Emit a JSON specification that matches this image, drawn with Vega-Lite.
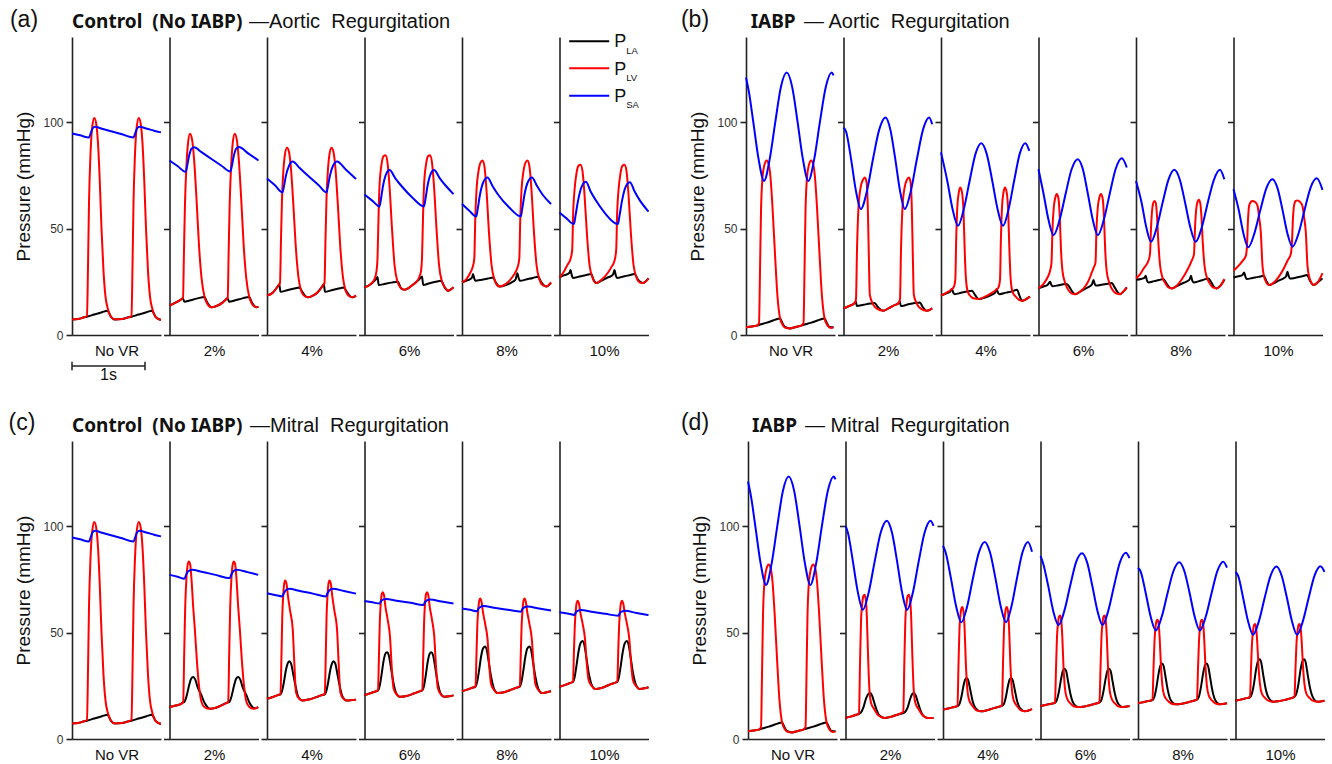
{
"$schema":"https://vega.github.io/schema/vega-lite/v6.json",
"padding":{"left":8,"top":8,"right":0,"bottom":0},
"config":{"view":{"stroke":null},"font":"Liberation Sans","range":{"category":["#000000","#ff0000","#0000ff"]},
"axis":{"grid":false,"domainColor":"#222","domainWidth":1.6,"tickColor":"#222","tickWidth":1.6,"labelFont":"Liberation Sans","labelFontSize":12,"labelColor":"#333","titleFont":"Liberation Sans","titleFontWeight":"normal","titleColor":"#111"},
"axisX":{"ticks":false,"labels":false,"titleFontSize":15,"titlePadding":8},
"axisY":{"tickSize":6,"labelPadding":3,"titleFontSize":19,"titlePadding":9},
"text":{"font":"Liberation Sans","color":"#111"}},
"datasets":{
"a0":[{"s":"LA","t":0,"p":7.3},{"s":"LA","t":6,"p":7.5},{"s":"LA","t":12,"p":8.3},{"s":"LA","t":15,"p":8.6},{"s":"LA","t":22,"p":9.6},{"s":"LA","t":30,"p":10.7},{"s":"LA","t":35.5,"p":11.4},{"s":"LA","t":37,"p":10.5},{"s":"LA","t":39,"p":8.5},{"s":"LA","t":43,"p":7.3},{"s":"LA","t":50,"p":7.5},{"s":"LA","t":56.5,"p":8.3},{"s":"LA","t":59.5,"p":8.6},{"s":"LA","t":66.5,"p":9.6},{"s":"LA","t":74.5,"p":10.7},{"s":"LA","t":80,"p":11.4},{"s":"LA","t":81.5,"p":10.5},{"s":"LA","t":83.5,"p":8.5},{"s":"LA","t":87.5,"p":7.3},{"s":"LA","t":89,"p":7.2},
{"s":"LV","t":0,"p":7.3},{"s":"LV","t":6,"p":7.5},{"s":"LV","t":12,"p":8.3},{"s":"LV","t":15,"p":9},{"s":"LV","t":16,"p":32},{"s":"LV","t":17,"p":62},{"s":"LV","t":18.5,"p":85},{"s":"LV","t":20.3,"p":98},{"s":"LV","t":22.3,"p":102},{"s":"LV","t":24.3,"p":99},{"s":"LV","t":26,"p":90},{"s":"LV","t":27.8,"p":72},{"s":"LV","t":29.5,"p":50},{"s":"LV","t":31.5,"p":30},{"s":"LV","t":33.5,"p":18},{"s":"LV","t":36,"p":12},{"s":"LV","t":39,"p":8.5},{"s":"LV","t":43,"p":7.3},{"s":"LV","t":50,"p":7.5},{"s":"LV","t":56.5,"p":8.3},{"s":"LV","t":59.5,"p":9},{"s":"LV","t":60.5,"p":32},{"s":"LV","t":61.5,"p":62},{"s":"LV","t":63,"p":85},{"s":"LV","t":64.8,"p":98},{"s":"LV","t":66.8,"p":102},{"s":"LV","t":68.8,"p":99},{"s":"LV","t":70.5,"p":90},{"s":"LV","t":72.3,"p":72},{"s":"LV","t":74,"p":50},{"s":"LV","t":76,"p":30},{"s":"LV","t":78,"p":18},{"s":"LV","t":80.5,"p":12},{"s":"LV","t":83.5,"p":8.5},{"s":"LV","t":87.5,"p":7.3},{"s":"LV","t":89,"p":7.2},
{"s":"SA","t":0,"p":94.7},{"s":"SA","t":8,"p":93.8},{"s":"SA","t":17,"p":92.8},{"s":"SA","t":18.5,"p":94.5},{"s":"SA","t":20.5,"p":97},{"s":"SA","t":23,"p":97.8},{"s":"SA","t":30,"p":96.9},{"s":"SA","t":40,"p":95.6},{"s":"SA","t":50,"p":94.3},{"s":"SA","t":61.5,"p":92.8},{"s":"SA","t":63,"p":94.5},{"s":"SA","t":65,"p":97},{"s":"SA","t":67.5,"p":97.8},{"s":"SA","t":75,"p":96.9},{"s":"SA","t":82,"p":96},{"s":"SA","t":89,"p":95.2}],
"a1":[{"s":"LA","t":0,"p":13.8},{"s":"LA","t":6,"p":15.2},{"s":"LA","t":11,"p":16.5},{"s":"LA","t":13.3,"p":17.3},{"s":"LA","t":15,"p":15.6},{"s":"LA","t":20,"p":16.2},{"s":"LA","t":28,"p":17.2},{"s":"LA","t":35,"p":17.9},{"s":"LA","t":37,"p":16},{"s":"LA","t":39.5,"p":14},{"s":"LA","t":42,"p":13},{"s":"LA","t":47,"p":13.6},{"s":"LA","t":53,"p":15.2},{"s":"LA","t":56,"p":16.5},{"s":"LA","t":58,"p":17.3},{"s":"LA","t":59.7,"p":15.6},{"s":"LA","t":65,"p":16.2},{"s":"LA","t":73,"p":17.2},{"s":"LA","t":79.7,"p":17.9},{"s":"LA","t":81.7,"p":16},{"s":"LA","t":84.2,"p":14},{"s":"LA","t":86.7,"p":13},{"s":"LA","t":89,"p":13.2},
{"s":"LV","t":0,"p":13.8},{"s":"LV","t":6,"p":15.2},{"s":"LV","t":11,"p":16.5},{"s":"LV","t":13.5,"p":17.5},{"s":"LV","t":14.5,"p":40},{"s":"LV","t":15.5,"p":62},{"s":"LV","t":17,"p":80},{"s":"LV","t":18.5,"p":90},{"s":"LV","t":20.5,"p":94.5},{"s":"LV","t":22.5,"p":92},{"s":"LV","t":24.5,"p":83},{"s":"LV","t":27,"p":64},{"s":"LV","t":29.5,"p":42},{"s":"LV","t":32,"p":27},{"s":"LV","t":35,"p":18},{"s":"LV","t":38,"p":14.5},{"s":"LV","t":42,"p":13},{"s":"LV","t":47,"p":13.6},{"s":"LV","t":53,"p":15.2},{"s":"LV","t":56,"p":16.5},{"s":"LV","t":58.2,"p":17.5},{"s":"LV","t":59.2,"p":40},{"s":"LV","t":60.2,"p":62},{"s":"LV","t":61.7,"p":80},{"s":"LV","t":63.2,"p":90},{"s":"LV","t":65.2,"p":94.5},{"s":"LV","t":67.2,"p":92},{"s":"LV","t":69.2,"p":83},{"s":"LV","t":71.7,"p":64},{"s":"LV","t":74.2,"p":42},{"s":"LV","t":76.7,"p":27},{"s":"LV","t":79.7,"p":18},{"s":"LV","t":82.7,"p":14.5},{"s":"LV","t":86.7,"p":13},{"s":"LV","t":89,"p":13.2},
{"s":"SA","t":0,"p":82},{"s":"SA","t":8,"p":79.4},{"s":"SA","t":16,"p":76.7},{"s":"SA","t":17.5,"p":79},{"s":"SA","t":19.5,"p":84},{"s":"SA","t":22,"p":87.5},{"s":"SA","t":24.7,"p":88.2},{"s":"SA","t":32,"p":85.9},{"s":"SA","t":42,"p":82.7},{"s":"SA","t":52,"p":79.5},{"s":"SA","t":60.7,"p":76.8},{"s":"SA","t":62.2,"p":79},{"s":"SA","t":64.2,"p":84},{"s":"SA","t":66.7,"p":87.5},{"s":"SA","t":69.3,"p":88.3},{"s":"SA","t":79,"p":85.2},{"s":"SA","t":89,"p":82}],
"a2":[{"s":"LA","t":0,"p":18.5},{"s":"LA","t":6,"p":20},{"s":"LA","t":10.7,"p":22.8},{"s":"LA","t":12.3,"p":23.8},{"s":"LA","t":13.5,"p":20.3},{"s":"LA","t":20,"p":21},{"s":"LA","t":27,"p":21.8},{"s":"LA","t":32.3,"p":22.3},{"s":"LA","t":35,"p":20.5},{"s":"LA","t":38,"p":18.5},{"s":"LA","t":40.7,"p":17.7},{"s":"LA","t":45,"p":18.3},{"s":"LA","t":50.5,"p":20},{"s":"LA","t":55.2,"p":22.8},{"s":"LA","t":56.8,"p":23.8},{"s":"LA","t":58,"p":20.3},{"s":"LA","t":64.5,"p":21},{"s":"LA","t":71.5,"p":21.8},{"s":"LA","t":76.8,"p":22.3},{"s":"LA","t":79.5,"p":20.5},{"s":"LA","t":82.5,"p":18.5},{"s":"LA","t":85.2,"p":17.7},{"s":"LA","t":89,"p":18.5},
{"s":"LV","t":0,"p":18.5},{"s":"LV","t":6,"p":20},{"s":"LV","t":10.7,"p":22.8},{"s":"LV","t":13,"p":24.5},{"s":"LV","t":14,"p":45},{"s":"LV","t":15,"p":64},{"s":"LV","t":16.5,"p":78},{"s":"LV","t":18,"p":85},{"s":"LV","t":20,"p":88},{"s":"LV","t":22,"p":86},{"s":"LV","t":24,"p":78},{"s":"LV","t":26.5,"p":60},{"s":"LV","t":29,"p":40},{"s":"LV","t":31.5,"p":27},{"s":"LV","t":34,"p":21},{"s":"LV","t":37,"p":18.5},{"s":"LV","t":40.7,"p":17.7},{"s":"LV","t":45,"p":18.3},{"s":"LV","t":50.5,"p":20},{"s":"LV","t":55.2,"p":22.8},{"s":"LV","t":57.5,"p":24.5},{"s":"LV","t":58.5,"p":45},{"s":"LV","t":59.5,"p":64},{"s":"LV","t":61,"p":78},{"s":"LV","t":62.5,"p":85},{"s":"LV","t":64.5,"p":88},{"s":"LV","t":66.5,"p":86},{"s":"LV","t":68.5,"p":78},{"s":"LV","t":71,"p":60},{"s":"LV","t":73.5,"p":40},{"s":"LV","t":76,"p":27},{"s":"LV","t":78.5,"p":21},{"s":"LV","t":81.5,"p":18.5},{"s":"LV","t":85.2,"p":17.7},{"s":"LV","t":89,"p":18.5},
{"s":"SA","t":0,"p":73.5},{"s":"SA","t":8,"p":70.3},{"s":"SA","t":15.5,"p":67},{"s":"SA","t":17,"p":70},{"s":"SA","t":19,"p":75},{"s":"SA","t":22,"p":79.5},{"s":"SA","t":25.5,"p":81.5},{"s":"SA","t":33,"p":78.3},{"s":"SA","t":43,"p":74},{"s":"SA","t":52,"p":70.2},{"s":"SA","t":59.5,"p":67},{"s":"SA","t":61,"p":70},{"s":"SA","t":63,"p":75},{"s":"SA","t":66,"p":79.5},{"s":"SA","t":70,"p":81.5},{"s":"SA","t":79,"p":77.6},{"s":"SA","t":89,"p":73.3}],
"a3":[{"s":"LA","t":0,"p":22.4},{"s":"LA","t":5,"p":23.5},{"s":"LA","t":10,"p":25.5},{"s":"LA","t":12,"p":26.5},{"s":"LA","t":13,"p":27.3},{"s":"LA","t":14.2,"p":23.5},{"s":"LA","t":20,"p":24},{"s":"LA","t":27,"p":24.6},{"s":"LA","t":33.4,"p":25},{"s":"LA","t":36.5,"p":22},{"s":"LA","t":40,"p":21.3},{"s":"LA","t":44,"p":22},{"s":"LA","t":48,"p":23.5},{"s":"LA","t":52,"p":25},{"s":"LA","t":55.5,"p":26.5},{"s":"LA","t":57.5,"p":27.5},{"s":"LA","t":58.7,"p":23.5},{"s":"LA","t":65,"p":24.3},{"s":"LA","t":71,"p":25},{"s":"LA","t":76.7,"p":25.5},{"s":"LA","t":80,"p":22.5},{"s":"LA","t":83.4,"p":20.8},{"s":"LA","t":86,"p":21.3},{"s":"LA","t":89,"p":22.4},
{"s":"LV","t":0,"p":22.4},{"s":"LV","t":5,"p":23.5},{"s":"LV","t":10,"p":26.3},{"s":"LV","t":12,"p":30},{"s":"LV","t":13,"p":36},{"s":"LV","t":14,"p":55},{"s":"LV","t":15,"p":70},{"s":"LV","t":17,"p":80},{"s":"LV","t":19,"p":84},{"s":"LV","t":21,"p":84.5},{"s":"LV","t":23,"p":81},{"s":"LV","t":25,"p":70},{"s":"LV","t":27.5,"p":50},{"s":"LV","t":30,"p":33},{"s":"LV","t":33,"p":25},{"s":"LV","t":36.5,"p":22},{"s":"LV","t":40,"p":21.3},{"s":"LV","t":44,"p":22},{"s":"LV","t":48,"p":23.5},{"s":"LV","t":52,"p":25},{"s":"LV","t":55,"p":27.5},{"s":"LV","t":56.5,"p":30},{"s":"LV","t":57.5,"p":36},{"s":"LV","t":58.5,"p":55},{"s":"LV","t":59.5,"p":70},{"s":"LV","t":61.5,"p":80},{"s":"LV","t":63.5,"p":84},{"s":"LV","t":65.5,"p":84.5},{"s":"LV","t":67.5,"p":81},{"s":"LV","t":69.5,"p":70},{"s":"LV","t":72,"p":50},{"s":"LV","t":74.5,"p":33},{"s":"LV","t":77.5,"p":25},{"s":"LV","t":81,"p":22},{"s":"LV","t":83.4,"p":20.8},{"s":"LV","t":86,"p":21.3},{"s":"LV","t":89,"p":22.4},
{"s":"SA","t":0,"p":66},{"s":"SA","t":8,"p":63},{"s":"SA","t":15,"p":60.4},{"s":"SA","t":16.5,"p":64},{"s":"SA","t":18.5,"p":70},{"s":"SA","t":21.5,"p":75.5},{"s":"SA","t":25,"p":77.5},{"s":"SA","t":31,"p":73.5},{"s":"SA","t":37,"p":70},{"s":"SA","t":48,"p":64.5},{"s":"SA","t":59.5,"p":60.4},{"s":"SA","t":61,"p":64},{"s":"SA","t":63,"p":70},{"s":"SA","t":66,"p":75.5},{"s":"SA","t":69.5,"p":77.5},{"s":"SA","t":75.5,"p":73.5},{"s":"SA","t":81.5,"p":70},{"s":"SA","t":89,"p":66.2}],
"a4":[{"s":"LA","t":0,"p":24.7},{"s":"LA","t":4,"p":25.5},{"s":"LA","t":8,"p":26.2},{"s":"LA","t":10,"p":27},{"s":"LA","t":11,"p":28.6},{"s":"LA","t":12.3,"p":26.5},{"s":"LA","t":13.5,"p":25.5},{"s":"LA","t":20,"p":26},{"s":"LA","t":26,"p":26.5},{"s":"LA","t":31,"p":27},{"s":"LA","t":34,"p":24.5},{"s":"LA","t":37.6,"p":22.8},{"s":"LA","t":44,"p":23.5},{"s":"LA","t":50,"p":24.8},{"s":"LA","t":53.5,"p":26},{"s":"LA","t":55.3,"p":29},{"s":"LA","t":56.8,"p":26.5},{"s":"LA","t":58,"p":25.5},{"s":"LA","t":65,"p":26.2},{"s":"LA","t":71,"p":26.8},{"s":"LA","t":76,"p":27.4},{"s":"LA","t":79,"p":25},{"s":"LA","t":84.3,"p":22.8},{"s":"LA","t":89,"p":24.5},
{"s":"LV","t":0,"p":24.7},{"s":"LV","t":4,"p":26},{"s":"LV","t":8,"p":29},{"s":"LV","t":11,"p":32.5},{"s":"LV","t":12.3,"p":36},{"s":"LV","t":13.3,"p":55},{"s":"LV","t":14.5,"p":68},{"s":"LV","t":16.5,"p":77},{"s":"LV","t":18.5,"p":81},{"s":"LV","t":20.5,"p":82},{"s":"LV","t":22.5,"p":79},{"s":"LV","t":24.5,"p":68},{"s":"LV","t":27,"p":48},{"s":"LV","t":29.5,"p":33},{"s":"LV","t":32.5,"p":26},{"s":"LV","t":35,"p":23.5},{"s":"LV","t":37.6,"p":22.8},{"s":"LV","t":44,"p":24},{"s":"LV","t":50,"p":27},{"s":"LV","t":54,"p":30},{"s":"LV","t":56,"p":32.5},{"s":"LV","t":57.3,"p":36},{"s":"LV","t":58.3,"p":55},{"s":"LV","t":59.5,"p":68},{"s":"LV","t":61.5,"p":77},{"s":"LV","t":63.5,"p":81},{"s":"LV","t":65.5,"p":82},{"s":"LV","t":67.5,"p":79},{"s":"LV","t":69.5,"p":68},{"s":"LV","t":72,"p":48},{"s":"LV","t":74.5,"p":33},{"s":"LV","t":77.5,"p":26},{"s":"LV","t":80.5,"p":23.5},{"s":"LV","t":84.3,"p":22.8},{"s":"LV","t":89,"p":24.7},
{"s":"SA","t":0,"p":61.5},{"s":"SA","t":7,"p":58.5},{"s":"SA","t":14.3,"p":55.7},{"s":"SA","t":15.8,"p":59.5},{"s":"SA","t":18,"p":66},{"s":"SA","t":21.5,"p":72},{"s":"SA","t":25.5,"p":74},{"s":"SA","t":30.5,"p":70},{"s":"SA","t":36,"p":66},{"s":"SA","t":47,"p":60},{"s":"SA","t":58.8,"p":55.7},{"s":"SA","t":60.3,"p":59.5},{"s":"SA","t":62.5,"p":66},{"s":"SA","t":66,"p":72},{"s":"SA","t":70,"p":74},{"s":"SA","t":75,"p":70},{"s":"SA","t":80.5,"p":66},{"s":"SA","t":89,"p":61.5}],
"a5":[{"s":"LA","t":0,"p":27},{"s":"LA","t":4,"p":28},{"s":"LA","t":8,"p":28.6},{"s":"LA","t":10,"p":29.3},{"s":"LA","t":11,"p":30.5},{"s":"LA","t":12.3,"p":28},{"s":"LA","t":13.4,"p":26.8},{"s":"LA","t":20,"p":27.5},{"s":"LA","t":26,"p":28.1},{"s":"LA","t":31.7,"p":28.6},{"s":"LA","t":34,"p":26},{"s":"LA","t":36.7,"p":24.4},{"s":"LA","t":42,"p":25.5},{"s":"LA","t":48,"p":27},{"s":"LA","t":52,"p":27.8},{"s":"LA","t":53.5,"p":28.4},{"s":"LA","t":55,"p":30.5},{"s":"LA","t":56.3,"p":28},{"s":"LA","t":57.5,"p":26.8},{"s":"LA","t":64,"p":27.5},{"s":"LA","t":70,"p":28.1},{"s":"LA","t":75,"p":28.6},{"s":"LA","t":78.5,"p":26},{"s":"LA","t":83.4,"p":24.4},{"s":"LA","t":89,"p":26.6},
{"s":"LV","t":0,"p":27},{"s":"LV","t":4,"p":29.5},{"s":"LV","t":8,"p":33},{"s":"LV","t":11,"p":35.7},{"s":"LV","t":12.7,"p":40},{"s":"LV","t":13.7,"p":58},{"s":"LV","t":15,"p":68},{"s":"LV","t":17,"p":76},{"s":"LV","t":19,"p":79.5},{"s":"LV","t":21,"p":80},{"s":"LV","t":23,"p":77},{"s":"LV","t":25,"p":66},{"s":"LV","t":27.5,"p":47},{"s":"LV","t":30,"p":33},{"s":"LV","t":33,"p":27},{"s":"LV","t":36.7,"p":24.4},{"s":"LV","t":42,"p":26},{"s":"LV","t":48,"p":29},{"s":"LV","t":52,"p":32},{"s":"LV","t":55,"p":34.9},{"s":"LV","t":56.7,"p":40},{"s":"LV","t":57.7,"p":58},{"s":"LV","t":59,"p":68},{"s":"LV","t":61,"p":76},{"s":"LV","t":63,"p":79.5},{"s":"LV","t":65,"p":80},{"s":"LV","t":67,"p":77},{"s":"LV","t":69,"p":66},{"s":"LV","t":71.5,"p":47},{"s":"LV","t":74,"p":33},{"s":"LV","t":77,"p":27},{"s":"LV","t":80.5,"p":24.6},{"s":"LV","t":83.4,"p":24.4},{"s":"LV","t":89,"p":26.6},
{"s":"SA","t":0,"p":57.6},{"s":"SA","t":7,"p":54.8},{"s":"SA","t":14.4,"p":52.1},{"s":"SA","t":16,"p":56},{"s":"SA","t":18.5,"p":63},{"s":"SA","t":22,"p":69.5},{"s":"SA","t":26.5,"p":72},{"s":"SA","t":31,"p":67.5},{"s":"SA","t":36,"p":63.5},{"s":"SA","t":45,"p":57.5},{"s":"SA","t":58.4,"p":52.1},{"s":"SA","t":60,"p":56},{"s":"SA","t":62.5,"p":63},{"s":"SA","t":66,"p":69.5},{"s":"SA","t":70.5,"p":71.8},{"s":"SA","t":75,"p":67.5},{"s":"SA","t":80,"p":63.5},{"s":"SA","t":89,"p":58}],
"b0":[{"s":"LA","t":0,"p":3.6},{"s":"LA","t":6,"p":4},{"s":"LA","t":10.7,"p":4.4},{"s":"LA","t":14,"p":4.9},{"s":"LA","t":20,"p":5.7},{"s":"LA","t":27,"p":6.8},{"s":"LA","t":32,"p":7.6},{"s":"LA","t":34,"p":7.8},{"s":"LA","t":36.5,"p":5.5},{"s":"LA","t":39,"p":3.8},{"s":"LA","t":44,"p":3.1},{"s":"LA","t":50,"p":3.8},{"s":"LA","t":55.2,"p":4.4},{"s":"LA","t":58.5,"p":4.9},{"s":"LA","t":64.5,"p":5.7},{"s":"LA","t":71.5,"p":6.8},{"s":"LA","t":76.5,"p":7.6},{"s":"LA","t":78.5,"p":7.8},{"s":"LA","t":81,"p":5.5},{"s":"LA","t":83.5,"p":3.8},{"s":"LA","t":87.5,"p":3.6},
{"s":"LV","t":0,"p":3.6},{"s":"LV","t":6,"p":4},{"s":"LV","t":10.7,"p":4.4},{"s":"LV","t":13,"p":5.5},{"s":"LV","t":14,"p":30},{"s":"LV","t":15,"p":58},{"s":"LV","t":16.5,"p":74},{"s":"LV","t":18.5,"p":80},{"s":"LV","t":20.7,"p":82},{"s":"LV","t":22.8,"p":80},{"s":"LV","t":24.5,"p":74},{"s":"LV","t":26.5,"p":60},{"s":"LV","t":29,"p":38},{"s":"LV","t":31.5,"p":18},{"s":"LV","t":34,"p":8},{"s":"LV","t":37,"p":4.5},{"s":"LV","t":40,"p":3.3},{"s":"LV","t":44,"p":3.1},{"s":"LV","t":50,"p":3.8},{"s":"LV","t":55.2,"p":4.4},{"s":"LV","t":57.5,"p":5.5},{"s":"LV","t":58.5,"p":30},{"s":"LV","t":59.5,"p":58},{"s":"LV","t":61,"p":74},{"s":"LV","t":63,"p":80},{"s":"LV","t":65.2,"p":82},{"s":"LV","t":67.3,"p":80},{"s":"LV","t":69,"p":74},{"s":"LV","t":71,"p":60},{"s":"LV","t":73.5,"p":38},{"s":"LV","t":76,"p":18},{"s":"LV","t":78.5,"p":8},{"s":"LV","t":81.5,"p":4.5},{"s":"LV","t":84.5,"p":3.3},{"s":"LV","t":87.5,"p":3.6},
{"s":"SA","t":0,"p":121},{"s":"SA","t":3,"p":114},{"s":"SA","t":7.2,"p":100.4},{"s":"SA","t":12.6,"p":82.6},{"s":"SA","t":18,"p":72.4},{"s":"SA","t":23.7,"p":82.6},{"s":"SA","t":29.4,"p":100.4},{"s":"SA","t":35,"p":116.7},{"s":"SA","t":40.7,"p":123.3},{"s":"SA","t":46.1,"p":116.7},{"s":"SA","t":51.5,"p":100.4},{"s":"SA","t":56.9,"p":82.6},{"s":"SA","t":62.3,"p":72.4},{"s":"SA","t":68.2,"p":82.6},{"s":"SA","t":74,"p":100.4},{"s":"SA","t":79.9,"p":116.7},{"s":"SA","t":85.7,"p":123.3},{"s":"SA","t":87.5,"p":122}],
"b1":[{"s":"LA","t":0,"p":12.5},{"s":"LA","t":5,"p":13.5},{"s":"LA","t":11.3,"p":15},{"s":"LA","t":12.3,"p":15.8},{"s":"LA","t":13.3,"p":13.6},{"s":"LA","t":20,"p":14.2},{"s":"LA","t":27,"p":14.8},{"s":"LA","t":31.3,"p":15},{"s":"LA","t":34,"p":13.3},{"s":"LA","t":39.7,"p":11.4},{"s":"LA","t":45,"p":12.5},{"s":"LA","t":50,"p":13.8},{"s":"LA","t":55.3,"p":15},{"s":"LA","t":56.3,"p":15.8},{"s":"LA","t":57.3,"p":13.6},{"s":"LA","t":64,"p":14.3},{"s":"LA","t":71,"p":15},{"s":"LA","t":76.3,"p":15.3},{"s":"LA","t":79,"p":13.3},{"s":"LA","t":83.3,"p":11.4},{"s":"LA","t":88.7,"p":12.5},
{"s":"LV","t":0,"p":12.5},{"s":"LV","t":5,"p":13.5},{"s":"LV","t":11.3,"p":15},{"s":"LV","t":12.5,"p":17},{"s":"LV","t":13.5,"p":40},{"s":"LV","t":15,"p":60},{"s":"LV","t":17,"p":69},{"s":"LV","t":19.5,"p":73},{"s":"LV","t":21.3,"p":74},{"s":"LV","t":23,"p":72},{"s":"LV","t":24.3,"p":60},{"s":"LV","t":25.3,"p":38},{"s":"LV","t":26.3,"p":19},{"s":"LV","t":29,"p":15},{"s":"LV","t":33,"p":12.5},{"s":"LV","t":39.7,"p":11.4},{"s":"LV","t":45,"p":12.5},{"s":"LV","t":50,"p":13.8},{"s":"LV","t":55.3,"p":15},{"s":"LV","t":56.5,"p":17},{"s":"LV","t":57.5,"p":40},{"s":"LV","t":59,"p":60},{"s":"LV","t":61,"p":69},{"s":"LV","t":63.5,"p":73},{"s":"LV","t":65.3,"p":74},{"s":"LV","t":67,"p":72},{"s":"LV","t":68.3,"p":60},{"s":"LV","t":69.3,"p":38},{"s":"LV","t":70.3,"p":19},{"s":"LV","t":73,"p":15},{"s":"LV","t":77,"p":12.5},{"s":"LV","t":83.3,"p":11.4},{"s":"LV","t":88.7,"p":12.5},
{"s":"SA","t":0,"p":97.5},{"s":"SA","t":2.6,"p":95.5},{"s":"SA","t":7.5,"p":82.9},{"s":"SA","t":12.4,"p":67.8},{"s":"SA","t":17.3,"p":59.2},{"s":"SA","t":23.5,"p":67.8},{"s":"SA","t":29.6,"p":82.9},{"s":"SA","t":35.8,"p":96.6},{"s":"SA","t":42,"p":102.2},{"s":"SA","t":46.8,"p":96.6},{"s":"SA","t":51.7,"p":82.9},{"s":"SA","t":56.5,"p":67.8},{"s":"SA","t":61.3,"p":59.2},{"s":"SA","t":67.4,"p":67.8},{"s":"SA","t":73.5,"p":82.9},{"s":"SA","t":79.6,"p":96.6},{"s":"SA","t":85.7,"p":102.2},{"s":"SA","t":88.7,"p":99}],
"b2":[{"s":"LA","t":0,"p":18.5},{"s":"LA","t":5,"p":19.5},{"s":"LA","t":9,"p":20.3},{"s":"LA","t":11,"p":21.6},{"s":"LA","t":12.3,"p":19.8},{"s":"LA","t":13.7,"p":19.2},{"s":"LA","t":20,"p":19.8},{"s":"LA","t":26,"p":20.4},{"s":"LA","t":31,"p":20.8},{"s":"LA","t":34,"p":18.8},{"s":"LA","t":37.7,"p":16.9},{"s":"LA","t":44,"p":17.6},{"s":"LA","t":50,"p":18.8},{"s":"LA","t":54,"p":19.8},{"s":"LA","t":55.7,"p":21.6},{"s":"LA","t":57,"p":19.8},{"s":"LA","t":58.4,"p":19.2},{"s":"LA","t":65,"p":19.9},{"s":"LA","t":71,"p":20.5},{"s":"LA","t":76,"p":21.3},{"s":"LA","t":78.5,"p":18.5},{"s":"LA","t":81,"p":16.1},{"s":"LA","t":85,"p":16.8},{"s":"LA","t":89,"p":18},
{"s":"LV","t":0,"p":18.5},{"s":"LV","t":5,"p":19.8},{"s":"LV","t":10,"p":21.3},{"s":"LV","t":12.7,"p":22.4},{"s":"LV","t":14.3,"p":26},{"s":"LV","t":15.2,"p":45},{"s":"LV","t":16.3,"p":60},{"s":"LV","t":17.8,"p":67},{"s":"LV","t":19.3,"p":69.3},{"s":"LV","t":21,"p":67},{"s":"LV","t":22.5,"p":58},{"s":"LV","t":23.7,"p":40},{"s":"LV","t":25,"p":26},{"s":"LV","t":27,"p":20},{"s":"LV","t":30,"p":18},{"s":"LV","t":33.5,"p":17.1},{"s":"LV","t":37.7,"p":16.9},{"s":"LV","t":44,"p":18},{"s":"LV","t":50,"p":19.6},{"s":"LV","t":55,"p":21.2},{"s":"LV","t":57.5,"p":22.4},{"s":"LV","t":59,"p":26},{"s":"LV","t":59.9,"p":45},{"s":"LV","t":61,"p":60},{"s":"LV","t":62.5,"p":67},{"s":"LV","t":64,"p":69.3},{"s":"LV","t":65.7,"p":67},{"s":"LV","t":67.2,"p":58},{"s":"LV","t":68.4,"p":40},{"s":"LV","t":69.7,"p":26},{"s":"LV","t":71.7,"p":20},{"s":"LV","t":74.7,"p":18},{"s":"LV","t":78,"p":16.5},{"s":"LV","t":81,"p":16.1},{"s":"LV","t":85,"p":16.8},{"s":"LV","t":89,"p":18},
{"s":"SA","t":0,"p":85.8},{"s":"SA","t":6.2,"p":72.6},{"s":"SA","t":11.6,"p":59.1},{"s":"SA","t":17,"p":51.3},{"s":"SA","t":22.8,"p":59.1},{"s":"SA","t":28.7,"p":72.6},{"s":"SA","t":34.5,"p":85.1},{"s":"SA","t":40.3,"p":90.1},{"s":"SA","t":45.7,"p":85.1},{"s":"SA","t":51.2,"p":72.6},{"s":"SA","t":56.6,"p":59.1},{"s":"SA","t":62,"p":51.3},{"s":"SA","t":67.6,"p":59.1},{"s":"SA","t":73.2,"p":72.6},{"s":"SA","t":78.7,"p":85.1},{"s":"SA","t":84.3,"p":90.1},{"s":"SA","t":88.3,"p":86.5}],
"b3":[{"s":"LA","t":0,"p":21.9},{"s":"LA","t":5,"p":22.8},{"s":"LA","t":9,"p":23.5},{"s":"LA","t":11.6,"p":25},{"s":"LA","t":12.8,"p":23.6},{"s":"LA","t":14,"p":22.9},{"s":"LA","t":20,"p":23.4},{"s":"LA","t":25,"p":23.8},{"s":"LA","t":28.3,"p":24},{"s":"LA","t":31,"p":22.5},{"s":"LA","t":34,"p":20.2},{"s":"LA","t":36.6,"p":19.2},{"s":"LA","t":42,"p":20.5},{"s":"LA","t":47,"p":21.8},{"s":"LA","t":51,"p":22.8},{"s":"LA","t":53.5,"p":23.8},{"s":"LA","t":55,"p":25.8},{"s":"LA","t":56.2,"p":24},{"s":"LA","t":57.3,"p":23.2},{"s":"LA","t":64,"p":23.7},{"s":"LA","t":69,"p":24.1},{"s":"LA","t":73.3,"p":24.4},{"s":"LA","t":76,"p":22.5},{"s":"LA","t":79,"p":20.2},{"s":"LA","t":81.6,"p":19.2},{"s":"LA","t":85,"p":20.5},{"s":"LA","t":88.3,"p":22.4},
{"s":"LV","t":0,"p":21.9},{"s":"LV","t":5,"p":24},{"s":"LV","t":9,"p":27},{"s":"LV","t":11.6,"p":30.2},{"s":"LV","t":13,"p":34},{"s":"LV","t":14,"p":50},{"s":"LV","t":15.3,"p":60},{"s":"LV","t":16.8,"p":64.5},{"s":"LV","t":18.3,"p":66.2},{"s":"LV","t":20,"p":64},{"s":"LV","t":21.3,"p":55},{"s":"LV","t":22.5,"p":40},{"s":"LV","t":24,"p":30},{"s":"LV","t":26.5,"p":24.7},{"s":"LV","t":30,"p":21},{"s":"LV","t":33,"p":19.6},{"s":"LV","t":36.6,"p":19.2},{"s":"LV","t":42,"p":20.5},{"s":"LV","t":47,"p":23},{"s":"LV","t":51,"p":26.5},{"s":"LV","t":53.3,"p":29.4},{"s":"LV","t":55.5,"p":32},{"s":"LV","t":57,"p":34},{"s":"LV","t":58,"p":50},{"s":"LV","t":59.3,"p":60},{"s":"LV","t":60.8,"p":64.5},{"s":"LV","t":62.5,"p":66.2},{"s":"LV","t":64.2,"p":64},{"s":"LV","t":65.5,"p":55},{"s":"LV","t":66.7,"p":40},{"s":"LV","t":68.2,"p":30},{"s":"LV","t":70.7,"p":24.7},{"s":"LV","t":74.2,"p":21},{"s":"LV","t":77.5,"p":19.6},{"s":"LV","t":81.6,"p":19.2},{"s":"LV","t":85,"p":20.5},{"s":"LV","t":88.3,"p":22.4},
{"s":"SA","t":0,"p":77.9},{"s":"SA","t":5,"p":66.5},{"s":"SA","t":10,"p":54.1},{"s":"SA","t":15,"p":46.9},{"s":"SA","t":21.1,"p":54.1},{"s":"SA","t":27.2,"p":66.5},{"s":"SA","t":33.2,"p":78},{"s":"SA","t":39.3,"p":82.6},{"s":"SA","t":44.3,"p":78},{"s":"SA","t":49.3,"p":66.5},{"s":"SA","t":54.3,"p":54.1},{"s":"SA","t":59.3,"p":46.9},{"s":"SA","t":65.3,"p":54.1},{"s":"SA","t":71.3,"p":66.5},{"s":"SA","t":77.3,"p":78.2},{"s":"SA","t":83.3,"p":83},{"s":"SA","t":88.3,"p":78.7}],
"b4":[{"s":"LA","t":0,"p":26},{"s":"LA","t":5,"p":26.3},{"s":"LA","t":8.3,"p":26.8},{"s":"LA","t":9.7,"p":27.8},{"s":"LA","t":11,"p":25.5},{"s":"LA","t":12.4,"p":24.7},{"s":"LA","t":18,"p":25.3},{"s":"LA","t":23,"p":25.8},{"s":"LA","t":27.4,"p":26.3},{"s":"LA","t":30,"p":24.6},{"s":"LA","t":33,"p":22.6},{"s":"LA","t":35.7,"p":21.9},{"s":"LA","t":41,"p":23},{"s":"LA","t":46,"p":24.2},{"s":"LA","t":50,"p":25},{"s":"LA","t":53.5,"p":26},{"s":"LA","t":55,"p":27.8},{"s":"LA","t":56.3,"p":25.5},{"s":"LA","t":57.7,"p":24.7},{"s":"LA","t":63,"p":25.3},{"s":"LA","t":68,"p":26},{"s":"LA","t":72.4,"p":26.6},{"s":"LA","t":75.5,"p":24.6},{"s":"LA","t":78,"p":22.6},{"s":"LA","t":80.7,"p":21.9},{"s":"LA","t":85,"p":23.5},{"s":"LA","t":88.4,"p":26},
{"s":"LV","t":0,"p":26.6},{"s":"LV","t":4,"p":28.5},{"s":"LV","t":8,"p":31.5},{"s":"LV","t":12.4,"p":34.9},{"s":"LV","t":14,"p":38},{"s":"LV","t":15,"p":50},{"s":"LV","t":16,"p":58},{"s":"LV","t":17.2,"p":62},{"s":"LV","t":18.4,"p":63},{"s":"LV","t":19.8,"p":62},{"s":"LV","t":21,"p":56},{"s":"LV","t":22.3,"p":44},{"s":"LV","t":24,"p":33},{"s":"LV","t":26.5,"p":27},{"s":"LV","t":29,"p":24.5},{"s":"LV","t":32,"p":22.5},{"s":"LV","t":35.7,"p":21.9},{"s":"LV","t":41,"p":23.3},{"s":"LV","t":46,"p":26.3},{"s":"LV","t":50.5,"p":29.8},{"s":"LV","t":55.7,"p":34.9},{"s":"LV","t":58,"p":38},{"s":"LV","t":59,"p":50},{"s":"LV","t":60,"p":58},{"s":"LV","t":61.2,"p":62},{"s":"LV","t":62.8,"p":63.5},{"s":"LV","t":64.2,"p":62},{"s":"LV","t":65.4,"p":56},{"s":"LV","t":66.7,"p":44},{"s":"LV","t":68.4,"p":33},{"s":"LV","t":70.9,"p":27},{"s":"LV","t":73.4,"p":24.5},{"s":"LV","t":76.5,"p":22.5},{"s":"LV","t":80.7,"p":21.9},{"s":"LV","t":85,"p":23.5},{"s":"LV","t":88.4,"p":26.3},
{"s":"SA","t":0,"p":72.4},{"s":"SA","t":5.5,"p":62.4},{"s":"SA","t":10.3,"p":50.6},{"s":"SA","t":15,"p":43.8},{"s":"SA","t":20.8,"p":50.6},{"s":"SA","t":26.7,"p":62.4},{"s":"SA","t":32.5,"p":73},{"s":"SA","t":38.3,"p":77.6},{"s":"SA","t":43.7,"p":73.2},{"s":"SA","t":49,"p":62.4},{"s":"SA","t":54.3,"p":50.6},{"s":"SA","t":59.7,"p":43.8},{"s":"SA","t":65.8,"p":50.6},{"s":"SA","t":71.9,"p":62.4},{"s":"SA","t":78,"p":73},{"s":"SA","t":84,"p":77.6},{"s":"SA","t":88.3,"p":73.2}],
"b5":[{"s":"LA","t":0,"p":27},{"s":"LA","t":5,"p":27.6},{"s":"LA","t":9,"p":28.2},{"s":"LA","t":10.6,"p":29.4},{"s":"LA","t":12,"p":27.3},{"s":"LA","t":13.3,"p":26.3},{"s":"LA","t":19,"p":26.8},{"s":"LA","t":25,"p":27.3},{"s":"LA","t":30.3,"p":27.8},{"s":"LA","t":33,"p":25.3},{"s":"LA","t":35.6,"p":23.5},{"s":"LA","t":40,"p":24.3},{"s":"LA","t":45,"p":25.5},{"s":"LA","t":50,"p":26.6},{"s":"LA","t":52.5,"p":27.5},{"s":"LA","t":54,"p":29.7},{"s":"LA","t":55.3,"p":27.5},{"s":"LA","t":56.5,"p":26.5},{"s":"LA","t":63,"p":27},{"s":"LA","t":69,"p":27.6},{"s":"LA","t":73.5,"p":28.2},{"s":"LA","t":76.5,"p":25.5},{"s":"LA","t":80,"p":23.5},{"s":"LA","t":84.5,"p":24.8},{"s":"LA","t":89,"p":26.6},
{"s":"LV","t":0,"p":30.2},{"s":"LV","t":4,"p":32},{"s":"LV","t":8.5,"p":34.5},{"s":"LV","t":12.3,"p":37.2},{"s":"LV","t":13.5,"p":42},{"s":"LV","t":14.5,"p":54},{"s":"LV","t":15.6,"p":60.7},{"s":"LV","t":17.3,"p":62.5},{"s":"LV","t":19,"p":63},{"s":"LV","t":21.5,"p":62.5},{"s":"LV","t":24,"p":60.7},{"s":"LV","t":25.7,"p":55},{"s":"LV","t":27.3,"p":48.4},{"s":"LV","t":29,"p":32.5},{"s":"LV","t":31.5,"p":26},{"s":"LV","t":35.6,"p":23.5},{"s":"LV","t":40,"p":24.5},{"s":"LV","t":45,"p":27.2},{"s":"LV","t":50,"p":31},{"s":"LV","t":54,"p":34.9},{"s":"LV","t":57.3,"p":38},{"s":"LV","t":58.5,"p":44},{"s":"LV","t":59.5,"p":55},{"s":"LV","t":60.6,"p":61},{"s":"LV","t":62.3,"p":63},{"s":"LV","t":64,"p":63.2},{"s":"LV","t":66.5,"p":62.5},{"s":"LV","t":69,"p":60.5},{"s":"LV","t":70.7,"p":55},{"s":"LV","t":72.3,"p":48.4},{"s":"LV","t":74,"p":32.5},{"s":"LV","t":76.5,"p":26},{"s":"LV","t":80,"p":23.5},{"s":"LV","t":84.5,"p":25},{"s":"LV","t":89,"p":29.1},
{"s":"SA","t":0,"p":68.5},{"s":"SA","t":5.2,"p":58.8},{"s":"SA","t":10,"p":47.6},{"s":"SA","t":14.7,"p":41.2},{"s":"SA","t":20.8,"p":47.6},{"s":"SA","t":26.9,"p":58.8},{"s":"SA","t":32.9,"p":69},{"s":"SA","t":39,"p":73.2},{"s":"SA","t":44,"p":69},{"s":"SA","t":49,"p":58.8},{"s":"SA","t":54,"p":47.6},{"s":"SA","t":59,"p":41.5},{"s":"SA","t":65.1,"p":47.8},{"s":"SA","t":71.2,"p":59},{"s":"SA","t":77.2,"p":69.4},{"s":"SA","t":83.3,"p":73.6},{"s":"SA","t":89,"p":68.2}],
"c1":[{"s":"LA","t":0,"p":15},{"s":"LA","t":6,"p":15.7},{"s":"LA","t":12,"p":16.6},{"s":"LA","t":13.7,"p":17.2},{"s":"LA","t":15,"p":17.5},{"s":"LA","t":17,"p":20},{"s":"LA","t":19.5,"p":25},{"s":"LA","t":21.5,"p":28.2},{"s":"LA","t":23.7,"p":29.1},{"s":"LA","t":25.7,"p":28},{"s":"LA","t":28,"p":24.5},{"s":"LA","t":32,"p":20.5},{"s":"LA","t":35,"p":17},{"s":"LA","t":38,"p":15},{"s":"LA","t":40.3,"p":14.2},{"s":"LA","t":47,"p":14.8},{"s":"LA","t":55.3,"p":16.6},{"s":"LA","t":58.7,"p":17.2},{"s":"LA","t":60,"p":17.5},{"s":"LA","t":62,"p":20},{"s":"LA","t":64.5,"p":25},{"s":"LA","t":66.5,"p":28.2},{"s":"LA","t":68.7,"p":29.1},{"s":"LA","t":70.7,"p":28},{"s":"LA","t":73,"p":24.5},{"s":"LA","t":77,"p":20.5},{"s":"LA","t":80,"p":17},{"s":"LA","t":83,"p":15},{"s":"LA","t":85,"p":14.4},{"s":"LA","t":88.7,"p":15},
{"s":"LV","t":0,"p":15},{"s":"LV","t":6,"p":15.7},{"s":"LV","t":12,"p":16.6},{"s":"LV","t":13.7,"p":17.5},{"s":"LV","t":14.7,"p":40},{"s":"LV","t":15.7,"p":62},{"s":"LV","t":17,"p":76},{"s":"LV","t":18.2,"p":82},{"s":"LV","t":19.3,"p":83.4},{"s":"LV","t":20.7,"p":82},{"s":"LV","t":22,"p":75},{"s":"LV","t":23.7,"p":62},{"s":"LV","t":25.3,"p":51.8},{"s":"LV","t":27.5,"p":36},{"s":"LV","t":29.5,"p":25},{"s":"LV","t":32,"p":17.4},{"s":"LV","t":35,"p":15},{"s":"LV","t":40.3,"p":14.2},{"s":"LV","t":47,"p":14.8},{"s":"LV","t":55.3,"p":16.6},{"s":"LV","t":58.7,"p":17.5},{"s":"LV","t":59.7,"p":40},{"s":"LV","t":60.7,"p":62},{"s":"LV","t":62,"p":76},{"s":"LV","t":63.2,"p":82},{"s":"LV","t":64.3,"p":83.4},{"s":"LV","t":65.7,"p":82},{"s":"LV","t":67,"p":75},{"s":"LV","t":68.7,"p":62},{"s":"LV","t":70.3,"p":51.8},{"s":"LV","t":72.5,"p":36},{"s":"LV","t":74.5,"p":25},{"s":"LV","t":77,"p":17.4},{"s":"LV","t":80,"p":15},{"s":"LV","t":83.7,"p":14.2},{"s":"LV","t":88.7,"p":15},
{"s":"SA","t":0,"p":77.1},{"s":"SA","t":8,"p":76.2},{"s":"SA","t":15,"p":75.3},{"s":"SA","t":16.5,"p":77},{"s":"SA","t":18.5,"p":78.7},{"s":"SA","t":22.7,"p":79.5},{"s":"SA","t":32,"p":78.6},{"s":"SA","t":46,"p":77.1},{"s":"SA","t":60.3,"p":75.6},{"s":"SA","t":61.8,"p":77.2},{"s":"SA","t":63.8,"p":78.8},{"s":"SA","t":67,"p":79.5},{"s":"SA","t":78,"p":78.4},{"s":"SA","t":88.7,"p":77.1}],
"c2":[{"s":"LA","t":0,"p":18.9},{"s":"LA","t":5,"p":19.6},{"s":"LA","t":10,"p":20.5},{"s":"LA","t":13.5,"p":21},{"s":"LA","t":15,"p":22.5},{"s":"LA","t":17,"p":27},{"s":"LA","t":19,"p":32.5},{"s":"LA","t":20.7,"p":35.5},{"s":"LA","t":22.3,"p":36.5},{"s":"LA","t":24,"p":35.5},{"s":"LA","t":26,"p":31},{"s":"LA","t":28.5,"p":25},{"s":"LA","t":30.7,"p":20.5},{"s":"LA","t":33,"p":18.7},{"s":"LA","t":35.7,"p":18.1},{"s":"LA","t":42,"p":18.6},{"s":"LA","t":50,"p":19.8},{"s":"LA","t":54,"p":20.5},{"s":"LA","t":57.8,"p":21},{"s":"LA","t":59.3,"p":22.5},{"s":"LA","t":61.3,"p":27},{"s":"LA","t":63.3,"p":32.5},{"s":"LA","t":65,"p":35.5},{"s":"LA","t":66.5,"p":36.5},{"s":"LA","t":68.2,"p":35.5},{"s":"LA","t":70.2,"p":31},{"s":"LA","t":72.7,"p":25},{"s":"LA","t":75,"p":20.5},{"s":"LA","t":77.3,"p":18.7},{"s":"LA","t":80,"p":18.1},{"s":"LA","t":85,"p":18.3},{"s":"LA","t":89,"p":18.5},
{"s":"LV","t":0,"p":18.9},{"s":"LV","t":5,"p":19.6},{"s":"LV","t":10,"p":20.5},{"s":"LV","t":13.5,"p":21.2},{"s":"LV","t":14.5,"p":40},{"s":"LV","t":15.3,"p":58},{"s":"LV","t":16.3,"p":68},{"s":"LV","t":17.2,"p":73},{"s":"LV","t":18.2,"p":74.5},{"s":"LV","t":19.5,"p":73},{"s":"LV","t":21,"p":67},{"s":"LV","t":23.2,"p":60},{"s":"LV","t":25.7,"p":51.8},{"s":"LV","t":27.3,"p":36},{"s":"LV","t":29,"p":22},{"s":"LV","t":32,"p":19},{"s":"LV","t":35.7,"p":18.1},{"s":"LV","t":42,"p":18.6},{"s":"LV","t":50,"p":19.8},{"s":"LV","t":54,"p":20.5},{"s":"LV","t":57.8,"p":21.2},{"s":"LV","t":58.8,"p":40},{"s":"LV","t":59.6,"p":58},{"s":"LV","t":60.6,"p":68},{"s":"LV","t":61.5,"p":73},{"s":"LV","t":62.5,"p":74.5},{"s":"LV","t":63.8,"p":73},{"s":"LV","t":65.3,"p":67},{"s":"LV","t":67.5,"p":60},{"s":"LV","t":70,"p":51.8},{"s":"LV","t":71.6,"p":36},{"s":"LV","t":73.3,"p":22},{"s":"LV","t":76.3,"p":19},{"s":"LV","t":80,"p":18.1},{"s":"LV","t":85,"p":18.3},{"s":"LV","t":89,"p":18.5},
{"s":"SA","t":0,"p":68.4},{"s":"SA","t":8,"p":67.7},{"s":"SA","t":15.3,"p":67},{"s":"SA","t":16.8,"p":68.5},{"s":"SA","t":18.8,"p":69.9},{"s":"SA","t":22.3,"p":70.6},{"s":"SA","t":32,"p":69.6},{"s":"SA","t":46,"p":68.3},{"s":"SA","t":59,"p":67},{"s":"SA","t":60.5,"p":68.5},{"s":"SA","t":62.5,"p":69.9},{"s":"SA","t":65.7,"p":70.6},{"s":"SA","t":77,"p":69.5},{"s":"SA","t":89,"p":68.3}],
"c3":[{"s":"LA","t":0,"p":20.7},{"s":"LA","t":5,"p":21.4},{"s":"LA","t":10,"p":22.2},{"s":"LA","t":13.5,"p":22.8},{"s":"LA","t":15,"p":24.5},{"s":"LA","t":17,"p":30},{"s":"LA","t":19,"p":36.5},{"s":"LA","t":20.8,"p":40},{"s":"LA","t":22.5,"p":40.8},{"s":"LA","t":24.2,"p":39.5},{"s":"LA","t":26.3,"p":34},{"s":"LA","t":28.7,"p":27},{"s":"LA","t":31,"p":22.3},{"s":"LA","t":33.3,"p":20.4},{"s":"LA","t":35.7,"p":19.8},{"s":"LA","t":42,"p":20.2},{"s":"LA","t":50,"p":21.5},{"s":"LA","t":54,"p":22.2},{"s":"LA","t":57.8,"p":22.8},{"s":"LA","t":59.3,"p":24.5},{"s":"LA","t":61.3,"p":30},{"s":"LA","t":63.3,"p":36.5},{"s":"LA","t":65.1,"p":40},{"s":"LA","t":66.8,"p":40.8},{"s":"LA","t":68.5,"p":39.5},{"s":"LA","t":70.6,"p":34},{"s":"LA","t":73,"p":27},{"s":"LA","t":75.3,"p":22.3},{"s":"LA","t":77.6,"p":20.4},{"s":"LA","t":80,"p":19.8},{"s":"LA","t":85,"p":20.1},{"s":"LA","t":89,"p":20.5},
{"s":"LV","t":0,"p":20.7},{"s":"LV","t":5,"p":21.4},{"s":"LV","t":10,"p":22.2},{"s":"LV","t":13.5,"p":23},{"s":"LV","t":14.5,"p":40},{"s":"LV","t":15.3,"p":55},{"s":"LV","t":16.3,"p":64},{"s":"LV","t":17.2,"p":68},{"s":"LV","t":18.2,"p":69},{"s":"LV","t":19.5,"p":67.5},{"s":"LV","t":21,"p":62},{"s":"LV","t":23.2,"p":56},{"s":"LV","t":25.5,"p":48},{"s":"LV","t":27.2,"p":34},{"s":"LV","t":29,"p":24},{"s":"LV","t":32,"p":21},{"s":"LV","t":35.7,"p":19.8},{"s":"LV","t":42,"p":20.2},{"s":"LV","t":50,"p":21.5},{"s":"LV","t":54,"p":22.2},{"s":"LV","t":57.8,"p":23},{"s":"LV","t":58.8,"p":40},{"s":"LV","t":59.6,"p":55},{"s":"LV","t":60.6,"p":64},{"s":"LV","t":61.5,"p":68},{"s":"LV","t":62.5,"p":69},{"s":"LV","t":63.8,"p":67.5},{"s":"LV","t":65.3,"p":62},{"s":"LV","t":67.5,"p":56},{"s":"LV","t":69.8,"p":48},{"s":"LV","t":71.5,"p":34},{"s":"LV","t":73.3,"p":24},{"s":"LV","t":76.3,"p":21},{"s":"LV","t":80,"p":19.8},{"s":"LV","t":85,"p":20.1},{"s":"LV","t":89,"p":20.5},
{"s":"SA","t":0,"p":64.8},{"s":"SA","t":8,"p":64.2},{"s":"SA","t":15,"p":63.6},{"s":"SA","t":16.5,"p":64.8},{"s":"SA","t":18.5,"p":65.5},{"s":"SA","t":21.5,"p":65.8},{"s":"SA","t":32,"p":65},{"s":"SA","t":46,"p":64},{"s":"SA","t":59,"p":63},{"s":"SA","t":60.5,"p":64.4},{"s":"SA","t":62.5,"p":65.1},{"s":"SA","t":65.5,"p":65.5},{"s":"SA","t":77,"p":64.6},{"s":"SA","t":89,"p":63.7}],
"c4":[{"s":"LA","t":0,"p":22.5},{"s":"LA","t":5,"p":23.2},{"s":"LA","t":10,"p":24},{"s":"LA","t":13.5,"p":24.6},{"s":"LA","t":15,"p":26.5},{"s":"LA","t":17,"p":32},{"s":"LA","t":19,"p":38.5},{"s":"LA","t":21,"p":42.5},{"s":"LA","t":23,"p":43.5},{"s":"LA","t":24.7,"p":42},{"s":"LA","t":26.8,"p":36},{"s":"LA","t":29.2,"p":29},{"s":"LA","t":31.5,"p":24.3},{"s":"LA","t":33.6,"p":22.2},{"s":"LA","t":35.7,"p":21.6},{"s":"LA","t":42,"p":22},{"s":"LA","t":50,"p":23.3},{"s":"LA","t":54,"p":24},{"s":"LA","t":57.8,"p":24.6},{"s":"LA","t":59.3,"p":26.5},{"s":"LA","t":61.3,"p":32},{"s":"LA","t":63.3,"p":38.5},{"s":"LA","t":65.3,"p":42.5},{"s":"LA","t":67.3,"p":43.5},{"s":"LA","t":69,"p":42},{"s":"LA","t":71.1,"p":36},{"s":"LA","t":73.5,"p":29},{"s":"LA","t":75.8,"p":24.3},{"s":"LA","t":77.9,"p":22.2},{"s":"LA","t":80,"p":21.6},{"s":"LA","t":85,"p":22},{"s":"LA","t":89,"p":22.4},
{"s":"LV","t":0,"p":22.5},{"s":"LV","t":5,"p":23.2},{"s":"LV","t":10,"p":24},{"s":"LV","t":13.5,"p":24.8},{"s":"LV","t":14.5,"p":40},{"s":"LV","t":15.3,"p":53},{"s":"LV","t":16.3,"p":61},{"s":"LV","t":17.2,"p":65},{"s":"LV","t":18.2,"p":66},{"s":"LV","t":19.5,"p":64.5},{"s":"LV","t":21,"p":59.5},{"s":"LV","t":23.2,"p":54},{"s":"LV","t":25.5,"p":47},{"s":"LV","t":27.2,"p":35},{"s":"LV","t":29,"p":26},{"s":"LV","t":32,"p":23},{"s":"LV","t":35.7,"p":21.6},{"s":"LV","t":42,"p":22},{"s":"LV","t":50,"p":23.3},{"s":"LV","t":54,"p":24},{"s":"LV","t":57.8,"p":24.8},{"s":"LV","t":58.8,"p":40},{"s":"LV","t":59.6,"p":53},{"s":"LV","t":60.6,"p":61},{"s":"LV","t":61.5,"p":65},{"s":"LV","t":62.5,"p":66},{"s":"LV","t":63.8,"p":64.5},{"s":"LV","t":65.3,"p":59.5},{"s":"LV","t":67.5,"p":54},{"s":"LV","t":69.8,"p":47},{"s":"LV","t":71.5,"p":35},{"s":"LV","t":73.3,"p":26},{"s":"LV","t":76.3,"p":23},{"s":"LV","t":80,"p":21.6},{"s":"LV","t":85,"p":22},{"s":"LV","t":89,"p":22.4},
{"s":"SA","t":0,"p":61.3},{"s":"SA","t":8,"p":60.7},{"s":"SA","t":15,"p":60},{"s":"SA","t":16.5,"p":61.3},{"s":"SA","t":18.5,"p":62.1},{"s":"SA","t":21.5,"p":62.5},{"s":"SA","t":32,"p":61.7},{"s":"SA","t":46,"p":60.7},{"s":"SA","t":59,"p":59.8},{"s":"SA","t":60.5,"p":61.1},{"s":"SA","t":62.5,"p":61.9},{"s":"SA","t":65.5,"p":62.2},{"s":"SA","t":77,"p":61.3},{"s":"SA","t":89,"p":60.4}],
"c5":[{"s":"LA","t":0,"p":24.5},{"s":"LA","t":5,"p":25.3},{"s":"LA","t":10,"p":26.2},{"s":"LA","t":13.5,"p":26.8},{"s":"LA","t":15,"p":28.8},{"s":"LA","t":17,"p":34.5},{"s":"LA","t":19,"p":41},{"s":"LA","t":21,"p":45},{"s":"LA","t":23,"p":46},{"s":"LA","t":24.7,"p":44.5},{"s":"LA","t":26.8,"p":38.5},{"s":"LA","t":29.2,"p":31},{"s":"LA","t":31.5,"p":26.3},{"s":"LA","t":33.6,"p":24.2},{"s":"LA","t":35.7,"p":23.5},{"s":"LA","t":42,"p":24},{"s":"LA","t":50,"p":25.5},{"s":"LA","t":54,"p":26.2},{"s":"LA","t":57.8,"p":26.8},{"s":"LA","t":59.3,"p":28.8},{"s":"LA","t":61.3,"p":34.5},{"s":"LA","t":63.3,"p":41},{"s":"LA","t":65.3,"p":45},{"s":"LA","t":67.3,"p":46},{"s":"LA","t":69,"p":44.5},{"s":"LA","t":71.1,"p":38.5},{"s":"LA","t":73.5,"p":31},{"s":"LA","t":75.8,"p":26.3},{"s":"LA","t":77.9,"p":24.2},{"s":"LA","t":80,"p":23.5},{"s":"LA","t":85,"p":23.8},{"s":"LA","t":89,"p":24.3},
{"s":"LV","t":0,"p":24.5},{"s":"LV","t":5,"p":25.3},{"s":"LV","t":10,"p":26.2},{"s":"LV","t":13.5,"p":27},{"s":"LV","t":14.5,"p":42},{"s":"LV","t":15.3,"p":53},{"s":"LV","t":16.3,"p":60.5},{"s":"LV","t":17.2,"p":64},{"s":"LV","t":18.2,"p":65},{"s":"LV","t":19.5,"p":63.5},{"s":"LV","t":21,"p":59},{"s":"LV","t":23.2,"p":54},{"s":"LV","t":25.5,"p":47},{"s":"LV","t":27.2,"p":36},{"s":"LV","t":29,"p":28},{"s":"LV","t":32,"p":25},{"s":"LV","t":35.7,"p":23.5},{"s":"LV","t":42,"p":24},{"s":"LV","t":50,"p":25.5},{"s":"LV","t":54,"p":26.2},{"s":"LV","t":57.8,"p":27},{"s":"LV","t":58.8,"p":42},{"s":"LV","t":59.6,"p":53},{"s":"LV","t":60.6,"p":60.5},{"s":"LV","t":61.5,"p":64},{"s":"LV","t":62.5,"p":65},{"s":"LV","t":63.8,"p":63.5},{"s":"LV","t":65.3,"p":59},{"s":"LV","t":67.5,"p":54},{"s":"LV","t":69.8,"p":47},{"s":"LV","t":71.5,"p":36},{"s":"LV","t":73.3,"p":28},{"s":"LV","t":76.3,"p":25},{"s":"LV","t":80,"p":23.5},{"s":"LV","t":85,"p":23.8},{"s":"LV","t":89,"p":24.3},
{"s":"SA","t":0,"p":59.6},{"s":"SA","t":8,"p":59},{"s":"SA","t":15,"p":58.3},{"s":"SA","t":16.5,"p":59.6},{"s":"SA","t":18.5,"p":60.3},{"s":"SA","t":21.5,"p":60.6},{"s":"SA","t":32,"p":59.8},{"s":"SA","t":46,"p":58.8},{"s":"SA","t":59,"p":57.9},{"s":"SA","t":60.5,"p":59.3},{"s":"SA","t":62.5,"p":59.9},{"s":"SA","t":65.5,"p":60.2},{"s":"SA","t":77,"p":59.2},{"s":"SA","t":89,"p":58.2}],
"d1":[{"s":"LA","t":0,"p":9.9},{"s":"LA","t":5,"p":10.5},{"s":"LA","t":10.7,"p":11.4},{"s":"LA","t":13.5,"p":11.8},{"s":"LA","t":15.5,"p":12.5},{"s":"LA","t":18,"p":15},{"s":"LA","t":20.5,"p":19},{"s":"LA","t":22.5,"p":21},{"s":"LA","t":24.6,"p":21.6},{"s":"LA","t":26.5,"p":20.5},{"s":"LA","t":28.5,"p":17.5},{"s":"LA","t":31,"p":13.8},{"s":"LA","t":34,"p":11},{"s":"LA","t":39,"p":9.9},{"s":"LA","t":45,"p":10.4},{"s":"LA","t":51,"p":11.3},{"s":"LA","t":55.6,"p":11.9},{"s":"LA","t":58,"p":12.2},{"s":"LA","t":59.8,"p":12.8},{"s":"LA","t":62.3,"p":15},{"s":"LA","t":64.8,"p":19},{"s":"LA","t":66.5,"p":21},{"s":"LA","t":68.3,"p":21.6},{"s":"LA","t":70.2,"p":20.5},{"s":"LA","t":72.2,"p":17.5},{"s":"LA","t":74.7,"p":13.8},{"s":"LA","t":77.7,"p":11},{"s":"LA","t":82.3,"p":9.9},{"s":"LA","t":88,"p":9.9},
{"s":"LV","t":0,"p":9.9},{"s":"LV","t":5,"p":10.5},{"s":"LV","t":10.7,"p":11.4},{"s":"LV","t":13.5,"p":12},{"s":"LV","t":14.5,"p":35},{"s":"LV","t":15.5,"p":55},{"s":"LV","t":16.8,"p":64},{"s":"LV","t":18,"p":67.3},{"s":"LV","t":19,"p":67.8},{"s":"LV","t":20.2,"p":66},{"s":"LV","t":21.3,"p":58},{"s":"LV","t":22.5,"p":40},{"s":"LV","t":23.8,"p":24},{"s":"LV","t":25.5,"p":17},{"s":"LV","t":29,"p":13.8},{"s":"LV","t":33,"p":11},{"s":"LV","t":39,"p":9.9},{"s":"LV","t":45,"p":10.4},{"s":"LV","t":51,"p":11.3},{"s":"LV","t":55.6,"p":12.2},{"s":"LV","t":57.8,"p":12.8},{"s":"LV","t":58.8,"p":35},{"s":"LV","t":59.8,"p":55},{"s":"LV","t":61.1,"p":64},{"s":"LV","t":62.3,"p":67.3},{"s":"LV","t":63.3,"p":67.8},{"s":"LV","t":64.5,"p":66},{"s":"LV","t":65.6,"p":58},{"s":"LV","t":66.8,"p":40},{"s":"LV","t":68.1,"p":24},{"s":"LV","t":69.8,"p":17},{"s":"LV","t":73.3,"p":13.8},{"s":"LV","t":77.3,"p":11},{"s":"LV","t":82.3,"p":9.9},{"s":"LV","t":88,"p":9.9},
{"s":"SA","t":0,"p":100.1},{"s":"SA","t":2.3,"p":97.1},{"s":"SA","t":7.3,"p":83.7},{"s":"SA","t":12.3,"p":69.1},{"s":"SA","t":17.3,"p":60.7},{"s":"SA","t":23.3,"p":69.1},{"s":"SA","t":29.3,"p":83.7},{"s":"SA","t":35.3,"p":97.1},{"s":"SA","t":41.3,"p":102.5},{"s":"SA","t":46.4,"p":97.1},{"s":"SA","t":51.5,"p":83.7},{"s":"SA","t":56.5,"p":69.1},{"s":"SA","t":61.6,"p":60.7},{"s":"SA","t":67.5,"p":69.1},{"s":"SA","t":73.3,"p":83.7},{"s":"SA","t":79.2,"p":97.1},{"s":"SA","t":85,"p":102.5},{"s":"SA","t":88,"p":100.1}],
"d2":[{"s":"LA","t":0,"p":13.8},{"s":"LA","t":5,"p":14.3},{"s":"LA","t":11,"p":15},{"s":"LA","t":14.5,"p":15.4},{"s":"LA","t":16.5,"p":16.5},{"s":"LA","t":18.5,"p":20},{"s":"LA","t":20.5,"p":25},{"s":"LA","t":22.2,"p":28},{"s":"LA","t":23.7,"p":28.6},{"s":"LA","t":25.3,"p":27.5},{"s":"LA","t":27.3,"p":23},{"s":"LA","t":29.8,"p":17.5},{"s":"LA","t":32.5,"p":14.5},{"s":"LA","t":37.7,"p":13},{"s":"LA","t":44,"p":13.5},{"s":"LA","t":51,"p":14.5},{"s":"LA","t":56.5,"p":15.2},{"s":"LA","t":59,"p":15.6},{"s":"LA","t":61,"p":16.5},{"s":"LA","t":63,"p":20},{"s":"LA","t":65,"p":25},{"s":"LA","t":66.7,"p":28},{"s":"LA","t":68.2,"p":28.6},{"s":"LA","t":69.8,"p":27.5},{"s":"LA","t":71.8,"p":23},{"s":"LA","t":74.3,"p":17.5},{"s":"LA","t":77,"p":14.5},{"s":"LA","t":82,"p":13},{"s":"LA","t":89,"p":14},
{"s":"LV","t":0,"p":13.8},{"s":"LV","t":5,"p":14.3},{"s":"LV","t":11,"p":15},{"s":"LV","t":14.5,"p":15.6},{"s":"LV","t":15.5,"p":35},{"s":"LV","t":16.5,"p":52},{"s":"LV","t":17.6,"p":59},{"s":"LV","t":18.5,"p":61.5},{"s":"LV","t":19.3,"p":62},{"s":"LV","t":20.5,"p":60},{"s":"LV","t":21.6,"p":52},{"s":"LV","t":22.8,"p":36},{"s":"LV","t":24.2,"p":24},{"s":"LV","t":26,"p":18.5},{"s":"LV","t":29.5,"p":15.5},{"s":"LV","t":33,"p":13.6},{"s":"LV","t":37.7,"p":13},{"s":"LV","t":44,"p":13.5},{"s":"LV","t":51,"p":14.5},{"s":"LV","t":56.5,"p":15.3},{"s":"LV","t":59,"p":15.8},{"s":"LV","t":60,"p":35},{"s":"LV","t":61,"p":52},{"s":"LV","t":62.1,"p":59},{"s":"LV","t":63,"p":61.5},{"s":"LV","t":63.8,"p":62},{"s":"LV","t":65,"p":60},{"s":"LV","t":66.1,"p":52},{"s":"LV","t":67.3,"p":36},{"s":"LV","t":68.7,"p":24},{"s":"LV","t":70.5,"p":18.5},{"s":"LV","t":74,"p":15.5},{"s":"LV","t":77.5,"p":13.6},{"s":"LV","t":82,"p":13},{"s":"LV","t":89,"p":14},
{"s":"SA","t":0,"p":90.8},{"s":"SA","t":2.6,"p":87.7},{"s":"SA","t":7.9,"p":75.6},{"s":"SA","t":13.1,"p":62.4},{"s":"SA","t":18.3,"p":54.8},{"s":"SA","t":24.2,"p":62.4},{"s":"SA","t":30,"p":75.6},{"s":"SA","t":35.9,"p":87.7},{"s":"SA","t":41.7,"p":92.6},{"s":"SA","t":47,"p":87.7},{"s":"SA","t":52.4,"p":75.6},{"s":"SA","t":57.7,"p":62.4},{"s":"SA","t":63,"p":54.8},{"s":"SA","t":68.5,"p":62.4},{"s":"SA","t":74,"p":75.6},{"s":"SA","t":79.5,"p":87.7},{"s":"SA","t":85,"p":92.6},{"s":"SA","t":89,"p":88}],
"d3":[{"s":"LA","t":0,"p":15.5},{"s":"LA","t":5,"p":16},{"s":"LA","t":11,"p":16.6},{"s":"LA","t":14.5,"p":17},{"s":"LA","t":16.5,"p":18.5},{"s":"LA","t":18.5,"p":22.5},{"s":"LA","t":20.5,"p":28},{"s":"LA","t":22.4,"p":32},{"s":"LA","t":24,"p":33},{"s":"LA","t":25.6,"p":32},{"s":"LA","t":27.6,"p":27},{"s":"LA","t":30,"p":21},{"s":"LA","t":32.7,"p":17},{"s":"LA","t":37.7,"p":15},{"s":"LA","t":44,"p":15.3},{"s":"LA","t":51,"p":16.1},{"s":"LA","t":56.5,"p":16.8},{"s":"LA","t":59,"p":17.2},{"s":"LA","t":61,"p":18.5},{"s":"LA","t":63,"p":22.5},{"s":"LA","t":65,"p":28},{"s":"LA","t":66.9,"p":32},{"s":"LA","t":68.5,"p":33},{"s":"LA","t":70.1,"p":32},{"s":"LA","t":72.1,"p":27},{"s":"LA","t":74.5,"p":21},{"s":"LA","t":77.2,"p":17},{"s":"LA","t":82,"p":15},{"s":"LA","t":89,"p":15.5},
{"s":"LV","t":0,"p":15.5},{"s":"LV","t":5,"p":16},{"s":"LV","t":11,"p":16.6},{"s":"LV","t":14.5,"p":17.2},{"s":"LV","t":15.5,"p":33},{"s":"LV","t":16.5,"p":48},{"s":"LV","t":17.6,"p":55},{"s":"LV","t":18.5,"p":57.5},{"s":"LV","t":19.5,"p":58},{"s":"LV","t":20.7,"p":56},{"s":"LV","t":21.8,"p":48},{"s":"LV","t":23,"p":34},{"s":"LV","t":24.4,"p":24},{"s":"LV","t":26.2,"p":19.5},{"s":"LV","t":29.7,"p":16.8},{"s":"LV","t":33.2,"p":15.4},{"s":"LV","t":37.7,"p":15},{"s":"LV","t":44,"p":15.3},{"s":"LV","t":51,"p":16.1},{"s":"LV","t":56.5,"p":16.8},{"s":"LV","t":59,"p":17.4},{"s":"LV","t":60,"p":33},{"s":"LV","t":61,"p":48},{"s":"LV","t":62.1,"p":55},{"s":"LV","t":63,"p":57.5},{"s":"LV","t":64,"p":58},{"s":"LV","t":65.2,"p":56},{"s":"LV","t":66.3,"p":48},{"s":"LV","t":67.5,"p":34},{"s":"LV","t":68.9,"p":24},{"s":"LV","t":70.7,"p":19.5},{"s":"LV","t":74.2,"p":16.8},{"s":"LV","t":77.7,"p":15.4},{"s":"LV","t":82,"p":15},{"s":"LV","t":89,"p":15.5},
{"s":"SA","t":0,"p":86},{"s":"SA","t":2.6,"p":82.6},{"s":"SA","t":7.8,"p":71.7},{"s":"SA","t":12.9,"p":59.8},{"s":"SA","t":18,"p":53.5},{"s":"SA","t":23.9,"p":60.3},{"s":"SA","t":29.8,"p":72.2},{"s":"SA","t":35.6,"p":83.1},{"s":"SA","t":41.5,"p":87.3},{"s":"SA","t":46.6,"p":83},{"s":"SA","t":51.8,"p":72},{"s":"SA","t":56.9,"p":60.3},{"s":"SA","t":62,"p":53.5},{"s":"SA","t":67.8,"p":60.3},{"s":"SA","t":73.7,"p":72.2},{"s":"SA","t":79.5,"p":83.1},{"s":"SA","t":85.3,"p":87.5},{"s":"SA","t":89,"p":85}],
"d4":[{"s":"LA","t":0,"p":16.8},{"s":"LA","t":5,"p":17.3},{"s":"LA","t":11,"p":17.9},{"s":"LA","t":14.5,"p":18.3},{"s":"LA","t":16.5,"p":20},{"s":"LA","t":18.5,"p":24.5},{"s":"LA","t":20.5,"p":30.5},{"s":"LA","t":22.4,"p":34.5},{"s":"LA","t":24,"p":35.5},{"s":"LA","t":25.6,"p":34.3},{"s":"LA","t":27.6,"p":29},{"s":"LA","t":30,"p":22.5},{"s":"LA","t":32.7,"p":18.3},{"s":"LA","t":37.7,"p":16.3},{"s":"LA","t":44,"p":16.6},{"s":"LA","t":51,"p":17.4},{"s":"LA","t":56.5,"p":18.1},{"s":"LA","t":59,"p":18.5},{"s":"LA","t":61,"p":20},{"s":"LA","t":63,"p":24.5},{"s":"LA","t":65,"p":30.5},{"s":"LA","t":66.9,"p":34.5},{"s":"LA","t":68.5,"p":35.5},{"s":"LA","t":70.1,"p":34.3},{"s":"LA","t":72.1,"p":29},{"s":"LA","t":74.5,"p":22.5},{"s":"LA","t":77.2,"p":18.3},{"s":"LA","t":82,"p":16.3},{"s":"LA","t":89,"p":16.8},
{"s":"LV","t":0,"p":16.8},{"s":"LV","t":5,"p":17.3},{"s":"LV","t":11,"p":17.9},{"s":"LV","t":14.5,"p":18.5},{"s":"LV","t":15.5,"p":33},{"s":"LV","t":16.5,"p":46},{"s":"LV","t":17.6,"p":53},{"s":"LV","t":18.5,"p":55.5},{"s":"LV","t":19.5,"p":56},{"s":"LV","t":20.7,"p":54},{"s":"LV","t":21.8,"p":46},{"s":"LV","t":23,"p":34},{"s":"LV","t":24.4,"p":25},{"s":"LV","t":26.2,"p":20.5},{"s":"LV","t":29.7,"p":18},{"s":"LV","t":33.2,"p":16.7},{"s":"LV","t":37.7,"p":16.3},{"s":"LV","t":44,"p":16.6},{"s":"LV","t":51,"p":17.4},{"s":"LV","t":56.5,"p":18.1},{"s":"LV","t":59,"p":18.7},{"s":"LV","t":60,"p":33},{"s":"LV","t":61,"p":46},{"s":"LV","t":62.1,"p":53},{"s":"LV","t":63,"p":55.5},{"s":"LV","t":64,"p":56},{"s":"LV","t":65.2,"p":54},{"s":"LV","t":66.3,"p":46},{"s":"LV","t":67.5,"p":34},{"s":"LV","t":68.9,"p":25},{"s":"LV","t":70.7,"p":20.5},{"s":"LV","t":74.2,"p":18},{"s":"LV","t":77.7,"p":16.7},{"s":"LV","t":82,"p":16.3},{"s":"LV","t":89,"p":16.8},
{"s":"SA","t":0,"p":80.5},{"s":"SA","t":2.6,"p":78.8},{"s":"SA","t":7.7,"p":68.6},{"s":"SA","t":12.7,"p":57.4},{"s":"SA","t":17.8,"p":51},{"s":"SA","t":23.7,"p":57.4},{"s":"SA","t":29.6,"p":68.6},{"s":"SA","t":35.4,"p":78.8},{"s":"SA","t":41.3,"p":83},{"s":"SA","t":46.4,"p":78.8},{"s":"SA","t":51.6,"p":68.6},{"s":"SA","t":56.7,"p":57.4},{"s":"SA","t":61.8,"p":51},{"s":"SA","t":67.7,"p":57.4},{"s":"SA","t":73.6,"p":68.6},{"s":"SA","t":79.4,"p":79},{"s":"SA","t":85.3,"p":83.3},{"s":"SA","t":89,"p":80.5}],
"d5":[{"s":"LA","t":0,"p":18},{"s":"LA","t":5,"p":18.5},{"s":"LA","t":11,"p":19.2},{"s":"LA","t":14.5,"p":19.6},{"s":"LA","t":16.5,"p":21.5},{"s":"LA","t":18.5,"p":26},{"s":"LA","t":20.5,"p":32.5},{"s":"LA","t":22.4,"p":36.5},{"s":"LA","t":24,"p":37.5},{"s":"LA","t":25.6,"p":36.2},{"s":"LA","t":27.6,"p":30.5},{"s":"LA","t":30,"p":24},{"s":"LA","t":32.7,"p":19.8},{"s":"LA","t":37.7,"p":17.5},{"s":"LA","t":44,"p":17.8},{"s":"LA","t":51,"p":18.6},{"s":"LA","t":56.5,"p":19.3},{"s":"LA","t":59,"p":19.8},{"s":"LA","t":61,"p":21.5},{"s":"LA","t":63,"p":26},{"s":"LA","t":65,"p":32.5},{"s":"LA","t":66.9,"p":36.5},{"s":"LA","t":68.5,"p":37.5},{"s":"LA","t":70.1,"p":36.2},{"s":"LA","t":72.1,"p":30.5},{"s":"LA","t":74.5,"p":24},{"s":"LA","t":77.2,"p":19.8},{"s":"LA","t":82,"p":17.5},{"s":"LA","t":89,"p":18},
{"s":"LV","t":0,"p":18},{"s":"LV","t":5,"p":18.5},{"s":"LV","t":11,"p":19.2},{"s":"LV","t":14.5,"p":19.8},{"s":"LV","t":15.5,"p":33},{"s":"LV","t":16.5,"p":45},{"s":"LV","t":17.6,"p":51},{"s":"LV","t":18.5,"p":53.5},{"s":"LV","t":19.5,"p":54},{"s":"LV","t":20.7,"p":52},{"s":"LV","t":21.8,"p":45},{"s":"LV","t":23,"p":34},{"s":"LV","t":24.4,"p":26},{"s":"LV","t":26.2,"p":21.5},{"s":"LV","t":29.7,"p":19.2},{"s":"LV","t":33.2,"p":17.9},{"s":"LV","t":37.7,"p":17.5},{"s":"LV","t":44,"p":17.8},{"s":"LV","t":51,"p":18.6},{"s":"LV","t":56.5,"p":19.3},{"s":"LV","t":59,"p":20},{"s":"LV","t":60,"p":33},{"s":"LV","t":61,"p":45},{"s":"LV","t":62.1,"p":51},{"s":"LV","t":63,"p":53.5},{"s":"LV","t":64,"p":54},{"s":"LV","t":65.2,"p":52},{"s":"LV","t":66.3,"p":45},{"s":"LV","t":67.5,"p":34},{"s":"LV","t":68.9,"p":26},{"s":"LV","t":70.7,"p":21.5},{"s":"LV","t":74.2,"p":19.2},{"s":"LV","t":77.7,"p":17.9},{"s":"LV","t":82,"p":17.5},{"s":"LV","t":89,"p":18},
{"s":"SA","t":0,"p":78.5},{"s":"SA","t":2.6,"p":76.8},{"s":"SA","t":7.5,"p":66.6},{"s":"SA","t":12.5,"p":55.4},{"s":"SA","t":17.5,"p":49},{"s":"SA","t":23.4,"p":55.4},{"s":"SA","t":29.3,"p":66.6},{"s":"SA","t":35.1,"p":76.8},{"s":"SA","t":41,"p":81},{"s":"SA","t":46.1,"p":76.8},{"s":"SA","t":51.3,"p":66.6},{"s":"SA","t":56.4,"p":55.4},{"s":"SA","t":61.5,"p":49},{"s":"SA","t":67.4,"p":55.4},{"s":"SA","t":73.3,"p":66.6},{"s":"SA","t":79.1,"p":76.9},{"s":"SA","t":85,"p":81.2},{"s":"SA","t":89,"p":78.5}]
},
"spacing":27,
"vconcat":[
{"spacing":27,"hconcat":[
{"spacing":8.5,"bounds":"flush","hconcat":[
{"width":89,"height":298,"layer":[
{"data":{"name":"a0"},"mark":{"type":"line","interpolate":"monotone","strokeWidth":2},"encoding":{"x":{"field":"t","type":"quantitative","scale":{"domain":[0,89],"nice":false},"axis":{"title":"No VR"}},"y":{"field":"p","type":"quantitative","scale":{"domain":[0,140],"nice":false},"axis":{"values":[0,50,100],"title":"Pressure (mmHg)"}},"color":{"field":"s","type":"nominal","legend":null}}},
{"data":{"values":[{}]},"mark":{"type":"text","text":"(a)","fontSize":23,"align":"center","baseline":"middle"},"encoding":{"x":{"datum":-48},"y":{"datum":148}}},
{"data":{"values":[{}]},"mark":{"type":"text","text":"Control\u00a0 (No IABP)","font":"Noto Sans","fontWeight":"bold","fontSize":19,"align":"left","baseline":"middle"},"encoding":{"x":{"datum":0},"y":{"datum":147}}},
{"data":{"values":[{}]},"mark":{"type":"text","text":"—Aortic\u00a0 Regurgitation","fontSize":20,"align":"left","baseline":"middle"},"encoding":{"x":{"datum":177},"y":{"datum":147}}},
{"data":{"values":[{}]},"mark":{"type":"rule","strokeWidth":1.5,"color":"#222"},"encoding":{"x":{"datum":0},"x2":{"datum":73},"y":{"datum":-14.6}}},
{"data":{"values":[{}]},"mark":{"type":"rule","strokeWidth":1.5,"color":"#222"},"encoding":{"x":{"datum":0},"y":{"datum":-12.6},"y2":{"datum":-16.6}}},
{"data":{"values":[{}]},"mark":{"type":"rule","strokeWidth":1.5,"color":"#222"},"encoding":{"x":{"datum":73},"y":{"datum":-12.6},"y2":{"datum":-16.6}}},
{"data":{"values":[{}]},"mark":{"type":"text","text":"1s","fontSize":16,"align":"center","baseline":"middle"},"encoding":{"x":{"datum":36.5},"y":{"datum":-18.8}}}
]},
{"width":89,"height":298,"data":{"name":"a1"},"mark":{"type":"line","interpolate":"monotone","strokeWidth":2},"encoding":{"x":{"field":"t","type":"quantitative","scale":{"domain":[0,89],"nice":false},"axis":{"title":"2%"}},"y":{"field":"p","type":"quantitative","scale":{"domain":[0,140],"nice":false},"axis":{"values":[0,50,100],"labels":false,"title":null}},"color":{"field":"s","type":"nominal","legend":null}}},
{"width":89,"height":298,"data":{"name":"a2"},"mark":{"type":"line","interpolate":"monotone","strokeWidth":2},"encoding":{"x":{"field":"t","type":"quantitative","scale":{"domain":[0,89],"nice":false},"axis":{"title":"4%"}},"y":{"field":"p","type":"quantitative","scale":{"domain":[0,140],"nice":false},"axis":{"values":[0,50,100],"labels":false,"title":null}},"color":{"field":"s","type":"nominal","legend":null}}},
{"width":89,"height":298,"data":{"name":"a3"},"mark":{"type":"line","interpolate":"monotone","strokeWidth":2},"encoding":{"x":{"field":"t","type":"quantitative","scale":{"domain":[0,89],"nice":false},"axis":{"title":"6%"}},"y":{"field":"p","type":"quantitative","scale":{"domain":[0,140],"nice":false},"axis":{"values":[0,50,100],"labels":false,"title":null}},"color":{"field":"s","type":"nominal","legend":null}}},
{"width":89,"height":298,"data":{"name":"a4"},"mark":{"type":"line","interpolate":"monotone","strokeWidth":2},"encoding":{"x":{"field":"t","type":"quantitative","scale":{"domain":[0,89],"nice":false},"axis":{"title":"8%"}},"y":{"field":"p","type":"quantitative","scale":{"domain":[0,140],"nice":false},"axis":{"values":[0,50,100],"labels":false,"title":null}},"color":{"field":"s","type":"nominal","legend":null}}},
{"width":89,"height":298,"layer":[
{"data":{"name":"a5"},"mark":{"type":"line","interpolate":"monotone","strokeWidth":2},"encoding":{"x":{"field":"t","type":"quantitative","scale":{"domain":[0,89],"nice":false},"axis":{"title":"10%"}},"y":{"field":"p","type":"quantitative","scale":{"domain":[0,140],"nice":false},"axis":{"values":[0,50,100],"labels":false,"title":null}},"color":{"field":"s","type":"nominal","legend":null}}},
{"data":{"values":[{}]},"mark":{"type":"rule","strokeWidth":2,"color":"#000000"},"encoding":{"x":{"datum":9.7},"x2":{"datum":49.7},"y":{"datum":138}}},
{"data":{"values":[{}]},"mark":{"type":"rule","strokeWidth":2,"color":"#ff0000"},"encoding":{"x":{"datum":9.7},"x2":{"datum":49.7},"y":{"datum":125.3}}},
{"data":{"values":[{}]},"mark":{"type":"rule","strokeWidth":2,"color":"#0000ff"},"encoding":{"x":{"datum":9.7},"x2":{"datum":49.7},"y":{"datum":112.4}}},
{"data":{"values":[{}]},"mark":{"type":"text","text":"P","fontSize":18,"align":"left","baseline":"middle"},"encoding":{"x":{"datum":54.7},"y":{"datum":137.5}}},
{"data":{"values":[{}]},"mark":{"type":"text","text":"P","fontSize":18,"align":"left","baseline":"middle"},"encoding":{"x":{"datum":54.7},"y":{"datum":124.7}}},
{"data":{"values":[{}]},"mark":{"type":"text","text":"P","fontSize":18,"align":"left","baseline":"middle"},"encoding":{"x":{"datum":54.7},"y":{"datum":111.9}}},
{"data":{"values":[{}]},"mark":{"type":"text","text":"LA","fontSize":9.5,"align":"left","baseline":"middle"},"encoding":{"x":{"datum":66.7},"y":{"datum":133.5}}},
{"data":{"values":[{}]},"mark":{"type":"text","text":"LV","fontSize":9.5,"align":"left","baseline":"middle"},"encoding":{"x":{"datum":66.7},"y":{"datum":120.7}}},
{"data":{"values":[{}]},"mark":{"type":"text","text":"SA","fontSize":9.5,"align":"left","baseline":"middle"},"encoding":{"x":{"datum":66.7},"y":{"datum":107.9}}}
]}
]},
{"spacing":8.5,"bounds":"flush","hconcat":[
{"width":89,"height":298,"layer":[
{"data":{"name":"b0"},"mark":{"type":"line","interpolate":"monotone","strokeWidth":2},"encoding":{"x":{"field":"t","type":"quantitative","scale":{"domain":[0,89],"nice":false},"axis":{"title":"No VR"}},"y":{"field":"p","type":"quantitative","scale":{"domain":[0,140],"nice":false},"axis":{"values":[0,50,100],"title":"Pressure (mmHg)"}},"color":{"field":"s","type":"nominal","legend":null}}},
{"data":{"values":[{}]},"mark":{"type":"text","text":"(b)","fontSize":23,"align":"center","baseline":"middle"},"encoding":{"x":{"datum":-51},"y":{"datum":148}}},
{"data":{"values":[{}]},"mark":{"type":"text","text":"IABP","font":"Noto Sans","fontWeight":"bold","fontSize":19,"align":"left","baseline":"middle"},"encoding":{"x":{"datum":4.7},"y":{"datum":147}}},
{"data":{"values":[{}]},"mark":{"type":"text","text":"— Aortic\u00a0 Regurgitation","fontSize":20,"align":"left","baseline":"middle"},"encoding":{"x":{"datum":58},"y":{"datum":147}}}
]},
{"width":89,"height":298,"data":{"name":"b1"},"mark":{"type":"line","interpolate":"monotone","strokeWidth":2},"encoding":{"x":{"field":"t","type":"quantitative","scale":{"domain":[0,89],"nice":false},"axis":{"title":"2%"}},"y":{"field":"p","type":"quantitative","scale":{"domain":[0,140],"nice":false},"axis":{"values":[0,50,100],"labels":false,"title":null}},"color":{"field":"s","type":"nominal","legend":null}}},
{"width":89,"height":298,"data":{"name":"b2"},"mark":{"type":"line","interpolate":"monotone","strokeWidth":2},"encoding":{"x":{"field":"t","type":"quantitative","scale":{"domain":[0,89],"nice":false},"axis":{"title":"4%"}},"y":{"field":"p","type":"quantitative","scale":{"domain":[0,140],"nice":false},"axis":{"values":[0,50,100],"labels":false,"title":null}},"color":{"field":"s","type":"nominal","legend":null}}},
{"width":89,"height":298,"data":{"name":"b3"},"mark":{"type":"line","interpolate":"monotone","strokeWidth":2},"encoding":{"x":{"field":"t","type":"quantitative","scale":{"domain":[0,89],"nice":false},"axis":{"title":"6%"}},"y":{"field":"p","type":"quantitative","scale":{"domain":[0,140],"nice":false},"axis":{"values":[0,50,100],"labels":false,"title":null}},"color":{"field":"s","type":"nominal","legend":null}}},
{"width":89,"height":298,"data":{"name":"b4"},"mark":{"type":"line","interpolate":"monotone","strokeWidth":2},"encoding":{"x":{"field":"t","type":"quantitative","scale":{"domain":[0,89],"nice":false},"axis":{"title":"8%"}},"y":{"field":"p","type":"quantitative","scale":{"domain":[0,140],"nice":false},"axis":{"values":[0,50,100],"labels":false,"title":null}},"color":{"field":"s","type":"nominal","legend":null}}},
{"width":89,"height":298,"data":{"name":"b5"},"mark":{"type":"line","interpolate":"monotone","strokeWidth":2},"encoding":{"x":{"field":"t","type":"quantitative","scale":{"domain":[0,89],"nice":false},"axis":{"title":"10%"}},"y":{"field":"p","type":"quantitative","scale":{"domain":[0,140],"nice":false},"axis":{"values":[0,50,100],"labels":false,"title":null}},"color":{"field":"s","type":"nominal","legend":null}}}
]}
]},
{"spacing":27,"hconcat":[
{"spacing":8.5,"bounds":"flush","hconcat":[
{"width":89,"height":298,"layer":[
{"data":{"name":"a0"},"mark":{"type":"line","interpolate":"monotone","strokeWidth":2},"encoding":{"x":{"field":"t","type":"quantitative","scale":{"domain":[0,89],"nice":false},"axis":{"title":"No VR"}},"y":{"field":"p","type":"quantitative","scale":{"domain":[0,140],"nice":false},"axis":{"values":[0,50,100],"title":"Pressure (mmHg)"}},"color":{"field":"s","type":"nominal","legend":null}}},
{"data":{"values":[{}]},"mark":{"type":"text","text":"(c)","fontSize":23,"align":"center","baseline":"middle"},"encoding":{"x":{"datum":-50},"y":{"datum":148.5}}},
{"data":{"values":[{}]},"mark":{"type":"text","text":"Control\u00a0 (No IABP)","font":"Noto Sans","fontWeight":"bold","fontSize":19,"align":"left","baseline":"middle"},"encoding":{"x":{"datum":0},"y":{"datum":147}}},
{"data":{"values":[{}]},"mark":{"type":"text","text":"—Mitral\u00a0 Regurgitation","fontSize":20,"align":"left","baseline":"middle"},"encoding":{"x":{"datum":178},"y":{"datum":147}}}
]},
{"width":89,"height":298,"data":{"name":"c1"},"mark":{"type":"line","interpolate":"monotone","strokeWidth":2},"encoding":{"x":{"field":"t","type":"quantitative","scale":{"domain":[0,89],"nice":false},"axis":{"title":"2%"}},"y":{"field":"p","type":"quantitative","scale":{"domain":[0,140],"nice":false},"axis":{"values":[0,50,100],"labels":false,"title":null}},"color":{"field":"s","type":"nominal","legend":null}}},
{"width":89,"height":298,"data":{"name":"c2"},"mark":{"type":"line","interpolate":"monotone","strokeWidth":2},"encoding":{"x":{"field":"t","type":"quantitative","scale":{"domain":[0,89],"nice":false},"axis":{"title":"4%"}},"y":{"field":"p","type":"quantitative","scale":{"domain":[0,140],"nice":false},"axis":{"values":[0,50,100],"labels":false,"title":null}},"color":{"field":"s","type":"nominal","legend":null}}},
{"width":89,"height":298,"data":{"name":"c3"},"mark":{"type":"line","interpolate":"monotone","strokeWidth":2},"encoding":{"x":{"field":"t","type":"quantitative","scale":{"domain":[0,89],"nice":false},"axis":{"title":"6%"}},"y":{"field":"p","type":"quantitative","scale":{"domain":[0,140],"nice":false},"axis":{"values":[0,50,100],"labels":false,"title":null}},"color":{"field":"s","type":"nominal","legend":null}}},
{"width":89,"height":298,"data":{"name":"c4"},"mark":{"type":"line","interpolate":"monotone","strokeWidth":2},"encoding":{"x":{"field":"t","type":"quantitative","scale":{"domain":[0,89],"nice":false},"axis":{"title":"8%"}},"y":{"field":"p","type":"quantitative","scale":{"domain":[0,140],"nice":false},"axis":{"values":[0,50,100],"labels":false,"title":null}},"color":{"field":"s","type":"nominal","legend":null}}},
{"width":89,"height":298,"data":{"name":"c5"},"mark":{"type":"line","interpolate":"monotone","strokeWidth":2},"encoding":{"x":{"field":"t","type":"quantitative","scale":{"domain":[0,89],"nice":false},"axis":{"title":"10%"}},"y":{"field":"p","type":"quantitative","scale":{"domain":[0,140],"nice":false},"axis":{"values":[0,50,100],"labels":false,"title":null}},"color":{"field":"s","type":"nominal","legend":null}}}
]},
{"spacing":8.5,"bounds":"flush","hconcat":[
{"width":89,"height":298,"layer":[
{"data":{"name":"b0"},"mark":{"type":"line","interpolate":"monotone","strokeWidth":2},"encoding":{"x":{"field":"t","type":"quantitative","scale":{"domain":[0,89],"nice":false},"axis":{"title":"No VR"}},"y":{"field":"p","type":"quantitative","scale":{"domain":[0,140],"nice":false},"axis":{"values":[0,50,100],"title":"Pressure (mmHg)"}},"color":{"field":"s","type":"nominal","legend":null}}},
{"data":{"values":[{}]},"mark":{"type":"text","text":"(d)","fontSize":23,"align":"center","baseline":"middle"},"encoding":{"x":{"datum":-53},"y":{"datum":148.5}}},
{"data":{"values":[{}]},"mark":{"type":"text","text":"IABP","font":"Noto Sans","fontWeight":"bold","fontSize":19,"align":"left","baseline":"middle"},"encoding":{"x":{"datum":4},"y":{"datum":147}}},
{"data":{"values":[{}]},"mark":{"type":"text","text":"— Mitral\u00a0 Regurgitation","fontSize":20,"align":"left","baseline":"middle"},"encoding":{"x":{"datum":57},"y":{"datum":147}}}
]},
{"width":89,"height":298,"data":{"name":"d1"},"mark":{"type":"line","interpolate":"monotone","strokeWidth":2},"encoding":{"x":{"field":"t","type":"quantitative","scale":{"domain":[0,89],"nice":false},"axis":{"title":"2%"}},"y":{"field":"p","type":"quantitative","scale":{"domain":[0,140],"nice":false},"axis":{"values":[0,50,100],"labels":false,"title":null}},"color":{"field":"s","type":"nominal","legend":null}}},
{"width":89,"height":298,"data":{"name":"d2"},"mark":{"type":"line","interpolate":"monotone","strokeWidth":2},"encoding":{"x":{"field":"t","type":"quantitative","scale":{"domain":[0,89],"nice":false},"axis":{"title":"4%"}},"y":{"field":"p","type":"quantitative","scale":{"domain":[0,140],"nice":false},"axis":{"values":[0,50,100],"labels":false,"title":null}},"color":{"field":"s","type":"nominal","legend":null}}},
{"width":89,"height":298,"data":{"name":"d3"},"mark":{"type":"line","interpolate":"monotone","strokeWidth":2},"encoding":{"x":{"field":"t","type":"quantitative","scale":{"domain":[0,89],"nice":false},"axis":{"title":"6%"}},"y":{"field":"p","type":"quantitative","scale":{"domain":[0,140],"nice":false},"axis":{"values":[0,50,100],"labels":false,"title":null}},"color":{"field":"s","type":"nominal","legend":null}}},
{"width":89,"height":298,"data":{"name":"d4"},"mark":{"type":"line","interpolate":"monotone","strokeWidth":2},"encoding":{"x":{"field":"t","type":"quantitative","scale":{"domain":[0,89],"nice":false},"axis":{"title":"8%"}},"y":{"field":"p","type":"quantitative","scale":{"domain":[0,140],"nice":false},"axis":{"values":[0,50,100],"labels":false,"title":null}},"color":{"field":"s","type":"nominal","legend":null}}},
{"width":89,"height":298,"data":{"name":"d5"},"mark":{"type":"line","interpolate":"monotone","strokeWidth":2},"encoding":{"x":{"field":"t","type":"quantitative","scale":{"domain":[0,89],"nice":false},"axis":{"title":"10%"}},"y":{"field":"p","type":"quantitative","scale":{"domain":[0,140],"nice":false},"axis":{"values":[0,50,100],"labels":false,"title":null}},"color":{"field":"s","type":"nominal","legend":null}}}
]}
]}
]
}
